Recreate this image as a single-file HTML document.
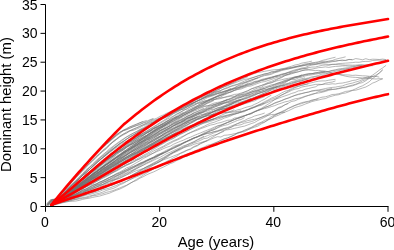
<!DOCTYPE html>
<html><head><meta charset="utf-8"><style>
html,body{margin:0;padding:0;background:#fff;width:394px;height:250px;overflow:hidden}
svg{display:block;will-change:transform}
</style></head><body>
<svg width="394" height="250" viewBox="0 0 394 250">
<defs><clipPath id="pc"><rect x="46" y="0" width="348" height="206"/></clipPath></defs>
<g clip-path="url(#pc)">
<g fill="none" stroke="#707070" stroke-width="0.5">
<path d="M47.8,204.0 L51.8,200.4 L62.4,198.7 L65.8,196.2 L69.1,194.5 L72.5,192.5 L75.9,190.6 L79.2,188.4 L82.6,186.2 L86.0,184.2 L89.4,182.1 L92.7,180.3 L96.1,177.9 L99.5,176.0 L102.8,173.7 L106.2,171.7 L109.6,169.7 L113.0,168.1 L116.3,165.5 L119.7,163.8 L123.1,161.8 L126.4,160.1 L129.8,158.1 L133.2,156.0 L136.6,154.3 L139.9,151.8 L143.3,150.2 L146.7,148.1 L150.0,146.5 L153.4,144.5 L156.8,142.6 L160.2,140.8 L163.5,139.4 L166.9,137.5 L170.3,135.5 L173.6,134.0 L177.0,131.6 L180.4,129.7 L183.8,128.4 L187.1,126.9 L190.5,125.7 L193.9,124.3 L197.3,122.1 L200.6,121.6 L204.0,120.3 L207.4,119.0 L210.7,118.2"/>
<path d="M46.7,203.7 L50.7,200.4 L62.4,197.2 L65.8,194.6 L69.1,191.9 L72.5,189.3 L75.9,186.7 L79.2,183.9 L82.6,181.6 L86.0,178.4 L89.4,176.2 L92.7,174.1 L96.1,171.4 L99.5,168.7 L102.8,166.5 L106.2,164.1 L109.6,161.1 L113.0,159.1 L116.3,156.5 L119.7,154.3 L123.1,152.0 L126.4,149.9 L129.8,147.0 L133.2,144.7 L136.6,142.8 L139.9,140.2 L143.3,138.0 L146.7,136.5"/>
<path d="M51.1,205.5 L62.4,195.0 L65.8,191.7 L69.1,188.3 L72.5,184.7 L75.9,181.8 L79.2,178.8 L82.6,175.5 L86.0,173.0 L89.4,169.5 L92.7,166.6 L96.1,163.4 L99.5,160.6 L102.8,157.9 L106.2,155.2 L109.6,152.6 L113.0,150.1 L116.3,147.6 L119.7,145.5 L123.1,142.9 L126.4,141.4 L129.8,139.8 L133.2,138.3 L136.6,136.3 L139.9,134.9 L143.3,133.2 L146.7,131.9 L150.0,130.2 L153.4,128.3 L156.8,126.6 L160.2,125.2 L163.5,123.7"/>
<path d="M51.1,205.5 L62.4,202.5 L65.8,201.3 L69.1,200.7 L72.5,199.9 L75.9,199.2 L79.2,198.4 L82.6,197.5 L86.0,197.1 L89.4,196.0 L92.7,195.3 L96.1,194.0 L99.5,193.2 L102.8,192.1 L106.2,190.5 L109.6,189.4 L113.0,188.5 L116.3,187.0 L119.7,184.9 L123.1,183.5 L126.4,181.5 L129.8,179.6 L133.2,177.9 L136.6,175.2 L139.9,173.5 L143.3,170.9 L146.7,168.8 L150.0,167.2 L153.4,165.0 L156.8,163.1 L160.2,161.1 L163.5,158.8 L166.9,156.7 L170.3,153.8 L173.6,151.8 L177.0,150.4 L180.4,148.5 L183.8,146.8 L187.1,144.8 L190.5,143.5 L193.9,142.0 L197.3,140.2 L200.6,138.7 L204.0,137.0 L207.4,135.7 L210.7,134.3 L214.1,132.8 L217.5,131.6 L220.9,130.2 L224.2,128.4 L227.6,127.5 L231.0,126.1 L234.3,124.8 L237.7,123.6 L241.1,122.6 L244.5,121.7 L247.8,120.6 L251.2,119.9 L254.6,119.3 L257.9,118.5 L261.3,117.3 L264.7,116.2 L268.1,115.4 L271.4,114.5 L274.8,114.4 L278.2,113.2 L281.5,112.6 L284.9,112.3"/>
<path d="M52.2,205.5 L62.4,199.9 L65.8,198.1 L69.1,196.6 L72.5,195.1 L75.9,193.8 L79.2,192.3 L82.6,190.2 L86.0,189.1 L89.4,187.3 L92.7,185.7 L96.1,184.2 L99.5,182.1 L102.8,181.0 L106.2,179.0 L109.6,177.5 L113.0,175.8 L116.3,174.7 L119.7,173.1 L123.1,171.4 L126.4,169.7 L129.8,167.9 L133.2,166.6 L136.6,164.9 L139.9,163.3 L143.3,161.7 L146.7,160.1 L150.0,158.7 L153.4,157.4 L156.8,155.5 L160.2,154.1 L163.5,152.7"/>
<path d="M52.2,205.5 L62.4,196.4 L65.8,193.8 L69.1,191.4 L72.5,188.3 L75.9,185.9 L79.2,183.1 L82.6,180.2 L86.0,177.7 L89.4,174.7 L92.7,172.3 L96.1,169.9 L99.5,167.1 L102.8,164.3 L106.2,161.9 L109.6,159.5 L113.0,157.0 L116.3,154.2 L119.7,151.9 L123.1,150.1 L126.4,147.7 L129.8,145.6 L133.2,143.5 L136.6,141.5 L139.9,139.4 L143.3,137.2 L146.7,135.3 L150.0,133.2 L153.4,131.3 L156.8,129.0 L160.2,127.1 L163.5,124.9 L166.9,123.1 L170.3,121.3 L173.6,119.2 L177.0,117.5 L180.4,115.4 L183.8,113.4 L187.1,111.3 L190.5,109.8 L193.9,108.1 L197.3,106.8 L200.6,104.8 L204.0,102.8 L207.4,101.3 L210.7,99.7 L214.1,97.8 L217.5,96.6 L220.9,95.2 L224.2,93.6 L227.6,91.3 L231.0,90.4 L234.3,88.7 L237.7,87.5 L241.1,86.3 L244.5,84.9 L247.8,83.5"/>
<path d="M52.7,205.5 L62.4,197.2 L65.8,194.8 L69.1,191.6 L72.5,189.4 L75.9,186.7 L79.2,183.8 L82.6,181.7 L86.0,179.2 L89.4,176.7 L92.7,173.8 L96.1,171.6 L99.5,169.3 L102.8,166.7 L106.2,164.5 L109.6,162.2 L113.0,160.1 L116.3,157.6 L119.7,155.9 L123.1,153.4 L126.4,151.4 L129.8,149.5 L133.2,147.4 L136.6,145.7 L139.9,144.2 L143.3,141.7 L146.7,139.9 L150.0,139.0 L153.4,136.8 L156.8,135.1 L160.2,133.1 L163.5,131.4 L166.9,129.2 L170.3,127.7 L173.6,125.8 L177.0,124.6 L180.4,122.8 L183.8,121.1 L187.1,119.6 L190.5,118.0 L193.9,116.3 L197.3,115.2 L200.6,113.3 L204.0,111.6 L207.4,110.1 L210.7,108.9 L214.1,107.4 L217.5,105.8 L220.9,104.6 L224.2,103.0 L227.6,101.9 L231.0,100.5 L234.3,99.4 L237.7,97.5 L241.1,96.7 L244.5,95.4 L247.8,94.2 L251.2,92.2 L254.6,91.3 L257.9,90.5 L261.3,89.2 L264.7,88.3 L268.1,87.1 L271.4,86.3 L274.8,84.9 L278.2,83.7 L281.5,82.9 L284.9,81.6 L288.3,80.4 L291.7,79.3 L295.0,79.5 L298.4,77.9 L301.8,77.2 L305.1,75.9 L308.5,75.3 L311.9,74.8 L315.3,74.2 L318.6,73.6 L322.0,72.6 L325.4,72.1 L328.8,71.5 L332.1,70.4 L335.5,69.8 L338.9,68.9 L342.2,68.5 L345.6,67.9 L349.0,67.6 L352.4,66.7 L355.7,66.4 L359.1,65.5 L362.5,65.1"/>
<path d="M47.0,204.9 L51.0,200.2 L62.4,198.0 L65.8,196.1 L69.1,193.1 L72.5,191.4 L75.9,189.7 L79.2,187.2 L82.6,184.9 L86.0,182.9 L89.4,180.9 L92.7,178.0 L96.1,175.9 L99.5,173.5 L102.8,171.5 L106.2,169.0 L109.6,166.5 L113.0,164.2 L116.3,162.3 L119.7,159.8 L123.1,157.5 L126.4,154.5 L129.8,152.2 L133.2,149.7 L136.6,147.5 L139.9,144.9 L143.3,142.3 L146.7,139.8 L150.0,137.8"/>
<path d="M50.8,205.5 L62.4,198.1 L65.8,195.4 L69.1,193.2 L72.5,190.5 L75.9,188.2 L79.2,185.9 L82.6,183.9 L86.0,181.2 L89.4,179.2 L92.7,177.4 L96.1,174.3 L99.5,171.9 L102.8,170.0 L106.2,167.8 L109.6,166.0 L113.0,163.4 L116.3,161.3 L119.7,159.0 L123.1,157.1 L126.4,155.2 L129.8,152.9 L133.2,151.2 L136.6,148.9 L139.9,147.2 L143.3,145.0 L146.7,143.0 L150.0,141.7 L153.4,139.4 L156.8,137.5 L160.2,136.1 L163.5,133.8 L166.9,132.0 L170.3,129.9 L173.6,128.3 L177.0,126.7 L180.4,124.7 L183.8,123.4 L187.1,121.9 L190.5,120.0 L193.9,118.5 L197.3,117.1 L200.6,116.6 L204.0,115.1 L207.4,113.8 L210.7,112.9 L214.1,111.3 L217.5,109.8 L220.9,109.1 L224.2,108.5 L227.6,107.2 L231.0,106.0 L234.3,104.9 L237.7,104.1 L241.1,102.8 L244.5,101.5 L247.8,100.0 L251.2,98.8 L254.6,97.4 L257.9,96.0 L261.3,94.6 L264.7,93.1 L268.1,91.6 L271.4,89.6 L274.8,87.8 L278.2,86.1 L281.5,84.2 L284.9,82.8 L288.3,80.6 L291.7,78.9 L295.0,77.7 L298.4,77.2 L301.8,75.9 L305.1,75.1 L308.5,74.3 L311.9,73.8 L315.3,72.8 L318.6,72.3 L322.0,71.4 L325.4,71.5"/>
<path d="M47.3,204.7 L51.3,201.4 L62.4,196.3 L65.8,193.7 L69.1,191.0 L72.5,188.2 L75.9,185.1 L79.2,182.0 L82.6,179.6 L86.0,176.9 L89.4,174.1 L92.7,171.2 L96.1,168.7 L99.5,165.7 L102.8,163.4 L106.2,161.1 L109.6,158.3 L113.0,155.8 L116.3,153.6 L119.7,151.3 L123.1,149.2 L126.4,147.0 L129.8,144.9 L133.2,143.4 L136.6,140.9 L139.9,139.4 L143.3,137.1 L146.7,135.4 L150.0,133.3 L153.4,131.4 L156.8,129.6 L160.2,127.9 L163.5,126.5 L166.9,124.4 L170.3,122.7"/>
<path d="M50.2,205.5 L62.4,191.4 L65.8,187.5 L69.1,183.4 L72.5,179.6 L75.9,176.1 L79.2,171.6 L82.6,168.1 L86.0,164.3 L89.4,160.8 L92.7,157.3 L96.1,153.7 L99.5,150.5 L102.8,147.3 L106.2,144.1 L109.6,141.0 L113.0,138.2 L116.3,135.3 L119.7,132.5 L123.1,130.4 L126.4,129.1 L129.8,126.9 L133.2,125.8 L136.6,124.2 L139.9,122.7 L143.3,121.6 L146.7,120.4"/>
<path d="M52.3,205.5 L62.4,199.2 L65.8,196.9 L69.1,194.8 L72.5,193.1 L75.9,191.4 L79.2,189.6 L82.6,187.4 L86.0,185.6 L89.4,183.5 L92.7,181.3 L96.1,179.4 L99.5,177.3 L102.8,175.7 L106.2,173.4 L109.6,171.6 L113.0,169.7 L116.3,168.1 L119.7,166.2 L123.1,164.2 L126.4,162.6 L129.8,160.6 L133.2,159.5 L136.6,156.8 L139.9,155.0 L143.3,153.2 L146.7,151.4 L150.0,149.9 L153.4,148.4 L156.8,146.4 L160.2,144.6 L163.5,142.9 L166.9,141.0 L170.3,139.2 L173.6,137.9 L177.0,136.1 L180.4,134.5 L183.8,132.7 L187.1,131.0 L190.5,129.4 L193.9,127.4 L197.3,126.3 L200.6,124.5 L204.0,123.1 L207.4,122.4 L210.7,121.3 L214.1,120.1 L217.5,119.2 L220.9,118.1 L224.2,116.8 L227.6,116.0 L231.0,115.1 L234.3,114.0 L237.7,113.1 L241.1,112.0 L244.5,110.8 L247.8,109.6 L251.2,108.7 L254.6,107.0 L257.9,105.5 L261.3,104.1 L264.7,102.9 L268.1,100.9 L271.4,99.3 L274.8,98.3 L278.2,96.6 L281.5,95.1 L284.9,93.3 L288.3,92.1 L291.7,90.3 L295.0,89.1 L298.4,88.6 L301.8,87.0 L305.1,86.4 L308.5,85.8 L311.9,85.2 L315.3,84.4 L318.6,84.3 L322.0,84.5 L325.4,84.1 L328.8,84.3 L332.1,83.8 L335.5,84.0 L338.9,83.3 L342.2,83.1 L345.6,82.4 L349.0,81.6 L352.4,80.5 L355.7,80.1 L359.1,78.9 L362.5,78.4 L365.8,77.4 L369.2,76.6"/>
<path d="M52.4,205.5 L62.4,195.7 L65.8,192.8 L69.1,189.6 L72.5,187.0 L75.9,184.2 L79.2,180.9 L82.6,178.1 L86.0,175.1 L89.4,172.5 L92.7,169.4 L96.1,166.7 L99.5,163.7 L102.8,161.1 L106.2,158.2 L109.6,156.5 L113.0,153.5 L116.3,150.6 L119.7,148.1 L123.1,145.7 L126.4,143.6 L129.8,141.9 L133.2,139.9 L136.6,138.0 L139.9,136.1 L143.3,134.9 L146.7,132.9 L150.0,131.0 L153.4,128.9 L156.8,127.3 L160.2,124.8 L163.5,123.2 L166.9,121.2 L170.3,119.8 L173.6,118.1 L177.0,116.0 L180.4,113.7 L183.8,112.3"/>
<path d="M52.0,205.5 L62.4,198.3 L65.8,196.1 L69.1,194.2 L72.5,192.0 L75.9,190.2 L79.2,188.0 L82.6,185.7 L86.0,183.5 L89.4,181.3 L92.7,179.5 L96.1,177.3 L99.5,175.2 L102.8,172.5 L106.2,170.7 L109.6,168.8 L113.0,166.9 L116.3,164.9 L119.7,162.7 L123.1,160.3 L126.4,158.6 L129.8,156.4 L133.2,154.2 L136.6,152.5 L139.9,150.5 L143.3,148.6 L146.7,146.9 L150.0,144.8 L153.4,142.9 L156.8,140.8 L160.2,139.1 L163.5,136.9 L166.9,135.6 L170.3,133.6 L173.6,132.1 L177.0,130.2 L180.4,128.3 L183.8,126.6 L187.1,124.8 L190.5,123.0 L193.9,120.8 L197.3,119.5 L200.6,118.4 L204.0,116.4 L207.4,115.0 L210.7,113.0 L214.1,111.2 L217.5,109.7 L220.9,108.3 L224.2,106.7 L227.6,105.7 L231.0,104.3 L234.3,102.5 L237.7,101.6 L241.1,100.1 L244.5,98.4 L247.8,97.5 L251.2,96.1 L254.6,94.9 L257.9,93.5 L261.3,92.7 L264.7,91.3 L268.1,90.7 L271.4,88.9 L274.8,87.8 L278.2,87.0 L281.5,85.6 L284.9,85.0 L288.3,83.5 L291.7,82.9 L295.0,81.6 L298.4,80.7 L301.8,79.8 L305.1,78.7 L308.5,77.9 L311.9,76.8 L315.3,76.3 L318.6,75.4 L322.0,74.1 L325.4,74.0 L328.8,72.8 L332.1,72.0 L335.5,71.4 L338.9,70.6 L342.2,70.0 L345.6,69.4 L349.0,68.7"/>
<path d="M50.0,205.5 L62.4,197.1 L65.8,195.1 L69.1,192.6 L72.5,190.7 L75.9,188.1 L79.2,185.4 L82.6,183.4 L86.0,180.9 L89.4,178.0 L92.7,176.0 L96.1,173.7 L99.5,171.3 L102.8,168.8 L106.2,166.8 L109.6,164.2 L113.0,162.3 L116.3,160.2 L119.7,158.2 L123.1,156.6 L126.4,155.1 L129.8,153.0 L133.2,151.3 L136.6,149.4 L139.9,147.6 L143.3,145.8 L146.7,144.1 L150.0,142.6 L153.4,141.2 L156.8,139.0 L160.2,137.6 L163.5,135.5 L166.9,134.7 L170.3,132.8 L173.6,131.1 L177.0,129.3 L180.4,127.8 L183.8,126.1 L187.1,124.6 L190.5,123.1 L193.9,121.2 L197.3,119.2 L200.6,117.6 L204.0,116.1 L207.4,114.5 L210.7,113.1 L214.1,111.2 L217.5,109.2 L220.9,107.8 L224.2,106.1 L227.6,104.3 L231.0,103.3 L234.3,101.6 L237.7,100.3 L241.1,99.1 L244.5,97.7 L247.8,96.0 L251.2,95.1 L254.6,94.0 L257.9,92.1 L261.3,91.3 L264.7,89.9 L268.1,88.8 L271.4,87.9 L274.8,87.1 L278.2,86.1 L281.5,85.3 L284.9,83.9 L288.3,83.3 L291.7,81.5 L295.0,80.9 L298.4,79.7 L301.8,78.7 L305.1,77.8"/>
<path d="M50.7,205.5 L62.4,196.5 L65.8,193.8 L69.1,191.3 L72.5,188.2 L75.9,185.4 L79.2,182.9 L82.6,180.0 L86.0,177.3 L89.4,174.2 L92.7,171.7 L96.1,169.0 L99.5,166.0 L102.8,163.6 L106.2,160.8 L109.6,158.5 L113.0,155.8 L116.3,152.9 L119.7,150.1 L123.1,147.8 L126.4,145.1 L129.8,142.7 L133.2,140.7 L136.6,138.1 L139.9,135.5 L143.3,133.1 L146.7,131.0 L150.0,129.0 L153.4,126.8 L156.8,124.7 L160.2,122.4 L163.5,120.5 L166.9,118.3 L170.3,116.0 L173.6,113.6 L177.0,112.1 L180.4,110.3 L183.8,108.4 L187.1,106.8 L190.5,104.5 L193.9,102.8 L197.3,101.1 L200.6,99.2 L204.0,98.1 L207.4,96.9 L210.7,95.9 L214.1,94.7 L217.5,93.5 L220.9,92.6 L224.2,91.2 L227.6,90.5 L231.0,89.6 L234.3,89.0 L237.7,88.2 L241.1,87.1 L244.5,86.0 L247.8,85.1 L251.2,84.5 L254.6,82.7 L257.9,81.8 L261.3,80.4 L264.7,79.4 L268.1,78.6 L271.4,77.7 L274.8,76.4 L278.2,75.8 L281.5,74.6 L284.9,73.7 L288.3,72.9 L291.7,71.9"/>
<path d="M51.6,205.5 L62.4,194.4 L65.8,190.9 L69.1,187.7 L72.5,184.3 L75.9,181.3 L79.2,178.0 L82.6,174.5 L86.0,171.0 L89.4,167.7 L92.7,165.4 L96.1,162.1 L99.5,158.8 L102.8,156.0 L106.2,154.0 L109.6,150.6 L113.0,148.4 L116.3,146.1 L119.7,143.9"/>
<path d="M46.7,205.7 L50.7,201.7 L62.4,199.6 L65.8,198.4 L69.1,196.9 L72.5,195.6 L75.9,194.1 L79.2,192.1 L82.6,190.4 L86.0,189.0 L89.4,187.4 L92.7,185.2 L96.1,184.0 L99.5,182.3 L102.8,181.0 L106.2,179.1 L109.6,177.3 L113.0,175.6 L116.3,173.6 L119.7,172.1 L123.1,170.2 L126.4,167.9 L129.8,166.7 L133.2,164.7 L136.6,162.6 L139.9,160.8 L143.3,158.5 L146.7,156.9 L150.0,155.0 L153.4,153.0 L156.8,150.8 L160.2,148.8 L163.5,147.0 L166.9,145.2 L170.3,143.4 L173.6,141.5 L177.0,140.1 L180.4,138.5 L183.8,136.3 L187.1,134.3 L190.5,132.7 L193.9,131.4 L197.3,130.2 L200.6,128.7 L204.0,127.5 L207.4,126.2 L210.7,125.0 L214.1,124.4 L217.5,123.2 L220.9,122.5 L224.2,121.4 L227.6,120.3 L231.0,120.0 L234.3,118.1 L237.7,117.7 L241.1,116.3 L244.5,115.6 L247.8,114.5 L251.2,113.5 L254.6,111.9 L257.9,110.5 L261.3,109.5 L264.7,107.5 L268.1,106.3 L271.4,105.0 L274.8,103.3 L278.2,102.1 L281.5,100.5 L284.9,99.3 L288.3,97.9 L291.7,96.5 L295.0,95.4 L298.4,94.1 L301.8,93.5 L305.1,92.6 L308.5,92.1 L311.9,90.9 L315.3,90.3 L318.6,89.9 L322.0,89.3 L325.4,88.5 L328.8,87.9 L332.1,87.4 L335.5,87.1 L338.9,86.4 L342.2,86.0 L345.6,84.7 L349.0,83.8 L352.4,83.1 L355.7,82.0 L359.1,81.1 L362.5,79.5 L365.8,78.4 L369.2,77.7 L372.6,76.4"/>
<path d="M46.8,205.5 L50.8,202.7 L62.4,198.6 L65.8,196.8 L69.1,194.8 L72.5,193.3 L75.9,191.1 L79.2,189.1 L82.6,186.8 L86.0,184.9 L89.4,182.7 L92.7,181.4 L96.1,179.0 L99.5,176.8 L102.8,175.0 L106.2,172.8 L109.6,171.0 L113.0,169.1 L116.3,167.9 L119.7,165.7 L123.1,163.5 L126.4,162.2 L129.8,159.7 L133.2,158.1 L136.6,155.9 L139.9,154.0 L143.3,152.2 L146.7,150.4 L150.0,148.2 L153.4,146.8 L156.8,144.7 L160.2,143.4 L163.5,141.0 L166.9,139.2 L170.3,137.2 L173.6,135.7 L177.0,134.0 L180.4,132.1 L183.8,130.1 L187.1,128.9 L190.5,126.5 L193.9,125.4 L197.3,123.8 L200.6,123.1 L204.0,121.5 L207.4,120.6 L210.7,120.2 L214.1,119.0"/>
<path d="M46.3,204.6 L50.3,199.7 L62.4,198.0 L65.8,195.6 L69.1,193.4 L72.5,191.4 L75.9,188.9 L79.2,186.3 L82.6,184.8 L86.0,182.2 L89.4,180.0 L92.7,177.7 L96.1,175.4 L99.5,172.7 L102.8,170.7 L106.2,168.5 L109.6,166.3 L113.0,164.2 L116.3,162.0 L119.7,159.7 L123.1,157.8 L126.4,155.5 L129.8,153.1 L133.2,150.7 L136.6,148.7 L139.9,146.8 L143.3,144.4 L146.7,142.4 L150.0,140.2 L153.4,138.2 L156.8,136.1 L160.2,134.2 L163.5,132.1 L166.9,130.3 L170.3,128.6 L173.6,126.1 L177.0,124.3 L180.4,122.6 L183.8,121.0 L187.1,118.7 L190.5,117.1 L193.9,116.1 L197.3,114.3 L200.6,113.3 L204.0,112.2 L207.4,111.1 L210.7,109.7 L214.1,109.1 L217.5,107.9 L220.9,107.4 L224.2,106.7 L227.6,105.9 L231.0,104.7 L234.3,103.2 L237.7,102.9 L241.1,101.9 L244.5,101.3 L247.8,100.1 L251.2,98.7 L254.6,97.4 L257.9,95.9 L261.3,94.4 L264.7,93.0 L268.1,91.5 L271.4,90.2 L274.8,89.2 L278.2,87.8 L281.5,86.8 L284.9,85.2"/>
<path d="M47.2,204.1 L51.2,200.0 L62.4,198.0 L65.8,196.1 L69.1,193.9 L72.5,192.0 L75.9,189.4 L79.2,187.1 L82.6,185.2 L86.0,183.1 L89.4,181.1 L92.7,178.6 L96.1,176.3 L99.5,174.2 L102.8,172.6 L106.2,169.5 L109.6,167.8 L113.0,166.0 L116.3,163.5 L119.7,161.3 L123.1,159.2 L126.4,157.4 L129.8,155.1 L133.2,153.3 L136.6,151.2 L139.9,149.4 L143.3,147.3 L146.7,145.2 L150.0,143.1 L153.4,141.3 L156.8,139.1 L160.2,136.9 L163.5,135.2 L166.9,133.4 L170.3,131.6 L173.6,130.0 L177.0,127.8 L180.4,125.9 L183.8,124.1 L187.1,122.7 L190.5,120.5 L193.9,119.0 L197.3,117.8 L200.6,116.4 L204.0,114.7 L207.4,113.9 L210.7,112.7 L214.1,111.7 L217.5,110.8 L220.9,109.7 L224.2,108.7 L227.6,107.9 L231.0,106.8 L234.3,106.1 L237.7,104.7 L241.1,104.2 L244.5,103.1 L247.8,101.6 L251.2,100.7 L254.6,99.1 L257.9,98.0 L261.3,96.8 L264.7,95.0 L268.1,93.5 L271.4,92.1 L274.8,90.5 L278.2,89.4 L281.5,87.7 L284.9,86.3 L288.3,85.2 L291.7,84.1 L295.0,82.4 L298.4,81.4 L301.8,80.7 L305.1,79.6 L308.5,78.5 L311.9,77.9 L315.3,76.8 L318.6,76.6 L322.0,75.7 L325.4,75.1 L328.8,74.8 L332.1,74.2"/>
<path d="M52.2,205.5 L62.4,192.4 L65.8,188.5 L69.1,185.2 L72.5,181.3 L75.9,177.2 L79.2,173.9 L82.6,170.0 L86.0,166.9 L89.4,163.7 L92.7,160.1 L96.1,156.6 L99.5,153.9 L102.8,151.1 L106.2,148.0 L109.6,144.8 L113.0,142.1 L116.3,139.6 L119.7,137.0 L123.1,135.0 L126.4,133.2 L129.8,131.0 L133.2,130.4 L136.6,129.1 L139.9,127.6 L143.3,125.7 L146.7,124.4 L150.0,123.1 L153.4,121.8 L156.8,120.1 L160.2,118.2 L163.5,116.6 L166.9,115.8 L170.3,114.3 L173.6,112.8 L177.0,110.9 L180.4,109.7 L183.8,109.2 L187.1,107.1 L190.5,105.4 L193.9,104.0 L197.3,102.9 L200.6,101.2 L204.0,99.6 L207.4,97.7 L210.7,96.5 L214.1,95.4 L217.5,93.8 L220.9,92.4 L224.2,91.4 L227.6,90.0 L231.0,88.3"/>
<path d="M52.4,205.5 L62.4,198.0 L65.8,195.8 L69.1,193.5 L72.5,191.4 L75.9,188.7 L79.2,186.6 L82.6,184.6 L86.0,182.1 L89.4,179.8 L92.7,177.9 L96.1,175.7 L99.5,173.3 L102.8,171.3 L106.2,169.1 L109.6,166.9 L113.0,165.0 L116.3,163.0 L119.7,160.7 L123.1,158.8 L126.4,156.7 L129.8,155.0 L133.2,153.2 L136.6,151.9 L139.9,150.2 L143.3,147.8 L146.7,146.4 L150.0,144.7 L153.4,142.8 L156.8,140.6 L160.2,139.0 L163.5,137.6 L166.9,136.0 L170.3,134.0 L173.6,132.3 L177.0,130.5 L180.4,128.9 L183.8,127.0 L187.1,125.5 L190.5,123.4 L193.9,121.8 L197.3,119.6 L200.6,118.7 L204.0,116.9 L207.4,115.5 L210.7,113.3 L214.1,111.9 L217.5,110.1 L220.9,108.6 L224.2,107.0 L227.6,105.3 L231.0,104.5 L234.3,102.8 L237.7,101.2 L241.1,100.1"/>
<path d="M50.8,205.5 L62.4,197.1 L65.8,194.0 L69.1,191.9 L72.5,189.2 L75.9,187.0 L79.2,184.3 L82.6,181.2 L86.0,179.1 L89.4,176.3 L92.7,173.4 L96.1,171.9 L99.5,169.2 L102.8,166.4 L106.2,164.0 L109.6,162.1 L113.0,159.6 L116.3,157.8 L119.7,155.1 L123.1,153.0 L126.4,151.1 L129.8,149.3 L133.2,147.3 L136.6,145.1 L139.9,143.1 L143.3,141.5 L146.7,139.8 L150.0,138.1 L153.4,135.7 L156.8,134.1 L160.2,132.5 L163.5,130.8 L166.9,129.0 L170.3,127.4 L173.6,125.4 L177.0,123.3 L180.4,122.3 L183.8,120.1 L187.1,118.5 L190.5,117.1 L193.9,115.4 L197.3,113.3 L200.6,112.0"/>
<path d="M51.6,205.5 L62.4,194.6 L65.8,191.3 L69.1,188.2 L72.5,185.0 L75.9,181.9 L79.2,179.0 L82.6,175.3 L86.0,172.5 L89.4,169.7 L92.7,166.4 L96.1,163.2 L99.5,160.2 L102.8,157.3 L106.2,155.1 L109.6,151.7 L113.0,148.9 L116.3,146.3 L119.7,143.5 L123.1,141.3 L126.4,139.2 L129.8,136.8 L133.2,135.0 L136.6,132.8 L139.9,130.2 L143.3,128.8 L146.7,126.5 L150.0,124.7 L153.4,122.3 L156.8,120.8 L160.2,118.4 L163.5,116.6 L166.9,115.3 L170.3,113.5 L173.6,111.4 L177.0,109.5 L180.4,107.5 L183.8,105.7 L187.1,103.7 L190.5,102.4 L193.9,100.5 L197.3,99.1 L200.6,97.6 L204.0,95.8 L207.4,94.5 L210.7,92.7 L214.1,91.3 L217.5,89.7 L220.9,88.3 L224.2,86.7 L227.6,85.7 L231.0,84.2 L234.3,83.1 L237.7,81.8 L241.1,80.5 L244.5,79.5 L247.8,78.9 L251.2,78.0 L254.6,77.0 L257.9,76.1 L261.3,75.0 L264.7,73.8 L268.1,73.4 L271.4,72.0 L274.8,71.9 L278.2,70.8 L281.5,69.9 L284.9,69.0 L288.3,68.7 L291.7,68.1 L295.0,67.2 L298.4,66.9 L301.8,66.0 L305.1,65.4 L308.5,65.1 L311.9,64.1 L315.3,64.0 L318.6,63.5 L322.0,62.6 L325.4,62.4 L328.8,62.5 L332.1,61.7 L335.5,61.3 L338.9,60.6 L342.2,60.0 L345.6,60.5 L349.0,59.4 L352.4,59.8 L355.7,58.6 L359.1,59.1 L362.5,59.8 L365.8,58.7 L369.2,59.7 L372.6,59.2 L376.0,59.3 L379.3,59.5 L382.7,59.1 L386.1,59.6"/>
<path d="M50.2,205.5 L62.4,197.5 L65.8,194.9 L69.1,192.8 L72.5,190.5 L75.9,187.8 L79.2,185.8 L82.6,183.2 L86.0,180.7 L89.4,178.8 L92.7,176.3 L96.1,174.0 L99.5,171.7 L102.8,168.8 L106.2,166.8 L109.6,165.1 L113.0,162.7 L116.3,160.1 L119.7,158.0 L123.1,155.9 L126.4,153.8 L129.8,151.4 L133.2,149.6 L136.6,147.2 L139.9,145.7 L143.3,143.5 L146.7,141.9 L150.0,140.2 L153.4,138.1 L156.8,136.1 L160.2,134.3 L163.5,132.7 L166.9,130.7 L170.3,129.5 L173.6,127.6 L177.0,125.8 L180.4,123.6 L183.8,121.9 L187.1,120.6 L190.5,118.6 L193.9,116.5 L197.3,114.7 L200.6,113.0 L204.0,111.7 L207.4,109.6 L210.7,107.9 L214.1,106.0 L217.5,105.1 L220.9,103.3 L224.2,101.4 L227.6,99.5 L231.0,98.1 L234.3,96.8 L237.7,94.7 L241.1,93.9 L244.5,92.0 L247.8,90.9 L251.2,89.0 L254.6,87.4 L257.9,86.6 L261.3,85.5 L264.7,84.4 L268.1,83.3 L271.4,82.8 L274.8,81.5 L278.2,80.4 L281.5,79.8 L284.9,78.9 L288.3,78.3 L291.7,77.7 L295.0,76.8 L298.4,76.2 L301.8,75.0"/>
<path d="M52.3,205.5 L62.4,198.8 L65.8,196.8 L69.1,194.6 L72.5,192.8 L75.9,190.4 L79.2,188.5 L82.6,186.6 L86.0,184.4 L89.4,182.7 L92.7,180.8 L96.1,178.4 L99.5,176.8 L102.8,174.5 L106.2,172.3 L109.6,170.2 L113.0,168.2 L116.3,165.7 L119.7,164.2 L123.1,162.0 L126.4,160.0 L129.8,157.8 L133.2,155.8 L136.6,153.7 L139.9,151.5 L143.3,149.3 L146.7,147.4 L150.0,145.5 L153.4,143.4 L156.8,141.0 L160.2,139.4 L163.5,137.2 L166.9,134.7 L170.3,132.8 L173.6,130.7 L177.0,128.9 L180.4,126.6 L183.8,125.1 L187.1,123.1 L190.5,121.6 L193.9,120.2 L197.3,118.6 L200.6,117.8 L204.0,116.7 L207.4,116.0 L210.7,115.1 L214.1,114.4 L217.5,113.3 L220.9,112.9 L224.2,112.8 L227.6,112.0 L231.0,111.9 L234.3,110.9 L237.7,109.8 L241.1,109.1 L244.5,107.8 L247.8,106.8 L251.2,106.0 L254.6,104.3 L257.9,102.9 L261.3,100.8 L264.7,99.2 L268.1,96.9 L271.4,95.1"/>
<path d="M50.5,205.5 L62.4,200.0 L65.8,198.8 L69.1,197.2 L72.5,195.7 L75.9,194.7 L79.2,193.3 L82.6,191.6 L86.0,190.4 L89.4,188.6 L92.7,187.3 L96.1,185.4 L99.5,184.4 L102.8,182.4 L106.2,181.3 L109.6,179.6 L113.0,178.5 L116.3,176.4 L119.7,174.8 L123.1,172.7 L126.4,171.1 L129.8,169.5 L133.2,167.8 L136.6,166.1 L139.9,164.5 L143.3,162.8 L146.7,160.6 L150.0,159.6 L153.4,158.0 L156.8,156.2 L160.2,154.0 L163.5,152.6 L166.9,151.1 L170.3,149.1 L173.6,147.5 L177.0,145.7 L180.4,144.7 L183.8,142.4 L187.1,141.4 L190.5,139.6 L193.9,138.2 L197.3,136.6 L200.6,135.1 L204.0,134.0 L207.4,132.2 L210.7,130.9 L214.1,129.6 L217.5,128.1 L220.9,126.5 L224.2,125.4 L227.6,124.7 L231.0,123.1 L234.3,121.8 L237.7,120.3 L241.1,119.5 L244.5,117.6"/>
<path d="M50.1,205.5 L62.4,196.5 L65.8,193.3 L69.1,190.8 L72.5,187.6 L75.9,185.3 L79.2,182.1 L82.6,179.4 L86.0,177.3 L89.4,173.7 L92.7,171.3 L96.1,168.8 L99.5,166.1 L102.8,163.4 L106.2,160.3 L109.6,158.3 L113.0,156.2 L116.3,153.2 L119.7,151.1 L123.1,149.4 L126.4,147.1 L129.8,145.0 L133.2,143.2 L136.6,141.2 L139.9,139.4 L143.3,137.8 L146.7,136.0 L150.0,133.9 L153.4,132.0 L156.8,130.3 L160.2,128.3 L163.5,126.2 L166.9,124.4 L170.3,122.8 L173.6,121.5 L177.0,119.3 L180.4,117.7 L183.8,115.3 L187.1,113.6 L190.5,112.0 L193.9,110.4 L197.3,108.6 L200.6,106.4 L204.0,105.3 L207.4,102.9 L210.7,101.5 L214.1,99.5 L217.5,98.3 L220.9,96.8 L224.2,94.9 L227.6,93.5 L231.0,91.6 L234.3,90.3 L237.7,88.5 L241.1,87.1 L244.5,85.9 L247.8,84.2 L251.2,82.8 L254.6,81.5 L257.9,80.8 L261.3,79.5 L264.7,78.6 L268.1,78.0 L271.4,77.0 L274.8,76.4 L278.2,75.7"/>
<path d="M52.8,205.5 L62.4,202.8 L65.8,202.2 L69.1,201.4 L72.5,201.3 L75.9,201.0 L79.2,200.4 L82.6,199.4 L86.0,198.7 L89.4,198.2 L92.7,197.4 L96.1,196.7 L99.5,196.1 L102.8,195.1 L106.2,194.1 L109.6,193.1 L113.0,191.6 L116.3,190.3 L119.7,189.1 L123.1,187.5 L126.4,185.7 L129.8,183.7 L133.2,181.5 L136.6,179.3 L139.9,177.4 L143.3,175.2 L146.7,173.0 L150.0,171.0 L153.4,169.1 L156.8,167.4 L160.2,165.3 L163.5,163.3 L166.9,161.3 L170.3,159.7 L173.6,157.7 L177.0,156.1 L180.4,153.5 L183.8,152.2 L187.1,150.3 L190.5,148.7 L193.9,146.5 L197.3,145.2 L200.6,143.2 L204.0,142.0 L207.4,140.6"/>
<path d="M50.3,205.5 L62.4,197.9 L65.8,196.0 L69.1,193.8 L72.5,191.5 L75.9,189.6 L79.2,187.3 L82.6,185.5 L86.0,183.0 L89.4,180.9 L92.7,178.7 L96.1,176.7 L99.5,174.5 L102.8,172.0 L106.2,170.3 L109.6,168.1 L113.0,166.2 L116.3,163.9 L119.7,162.3 L123.1,160.4 L126.4,158.2 L129.8,156.4 L133.2,155.0 L136.6,153.2 L139.9,151.3 L143.3,150.0 L146.7,148.1 L150.0,146.3 L153.4,144.4 L156.8,142.5 L160.2,140.8 L163.5,138.6 L166.9,137.4 L170.3,135.9 L173.6,133.8 L177.0,132.6 L180.4,131.0 L183.8,129.0 L187.1,127.3 L190.5,125.9 L193.9,124.8 L197.3,123.1 L200.6,121.0 L204.0,119.8 L207.4,118.5 L210.7,116.1 L214.1,115.3 L217.5,113.3 L220.9,112.2"/>
<path d="M47.9,205.9 L51.9,202.7 L62.4,197.9 L65.8,195.1 L69.1,192.9 L72.5,190.4 L75.9,188.2 L79.2,186.1 L82.6,183.1 L86.0,180.8 L89.4,178.7 L92.7,175.8 L96.1,173.3 L99.5,171.5 L102.8,169.2 L106.2,167.1 L109.6,164.8 L113.0,162.9 L116.3,160.7 L119.7,158.6 L123.1,156.6 L126.4,154.7 L129.8,152.7 L133.2,150.8 L136.6,149.1 L139.9,146.7 L143.3,144.9 L146.7,143.3 L150.0,141.6 L153.4,139.7 L156.8,137.7 L160.2,136.3 L163.5,134.2 L166.9,132.4 L170.3,130.9 L173.6,129.0 L177.0,126.9 L180.4,125.6 L183.8,123.4 L187.1,121.3 L190.5,120.0 L193.9,118.9 L197.3,117.0 L200.6,115.9 L204.0,114.1 L207.4,112.6 L210.7,111.3 L214.1,109.6 L217.5,108.0 L220.9,106.9 L224.2,105.7 L227.6,104.4 L231.0,102.9 L234.3,102.0 L237.7,101.2 L241.1,99.6 L244.5,98.7 L247.8,97.1 L251.2,96.0 L254.6,94.3 L257.9,93.4 L261.3,92.4 L264.7,91.6 L268.1,89.9 L271.4,88.6 L274.8,87.1 L278.2,86.1"/>
<path d="M51.6,205.5 L62.4,197.9 L65.8,195.2 L69.1,192.8 L72.5,190.6 L75.9,188.4 L79.2,185.9 L82.6,183.9 L86.0,181.2 L89.4,179.3 L92.7,176.5 L96.1,174.2 L99.5,171.8 L102.8,169.7 L106.2,167.4 L109.6,164.9 L113.0,162.7 L116.3,160.1 L119.7,157.6 L123.1,155.1 L126.4,153.0 L129.8,150.3 L133.2,147.7 L136.6,145.0 L139.9,142.7 L143.3,140.6 L146.7,138.2 L150.0,135.7 L153.4,132.9 L156.8,131.2 L160.2,129.0 L163.5,126.6 L166.9,124.5"/>
<path d="M50.4,205.5 L62.4,195.6 L65.8,192.5 L69.1,190.1 L72.5,186.6 L75.9,183.7 L79.2,180.7 L82.6,177.5 L86.0,174.6 L89.4,172.1 L92.7,169.4 L96.1,166.6 L99.5,163.4 L102.8,160.8 L106.2,158.4 L109.6,156.0 L113.0,153.3 L116.3,151.1 L119.7,148.9 L123.1,146.3 L126.4,144.4 L129.8,142.2 L133.2,140.6 L136.6,138.5 L139.9,136.5 L143.3,135.3 L146.7,133.3 L150.0,131.4 L153.4,130.1 L156.8,128.4 L160.2,126.6 L163.5,124.9 L166.9,122.7 L170.3,121.3 L173.6,119.5 L177.0,118.2 L180.4,116.5 L183.8,114.8 L187.1,113.2 L190.5,111.2 L193.9,109.0 L197.3,107.2 L200.6,105.6 L204.0,103.0 L207.4,101.6 L210.7,99.7 L214.1,97.9 L217.5,96.3 L220.9,94.6 L224.2,93.0 L227.6,91.3 L231.0,89.0 L234.3,87.7 L237.7,85.8 L241.1,84.0 L244.5,82.7 L247.8,81.4 L251.2,80.1 L254.6,78.9 L257.9,77.6 L261.3,76.2 L264.7,74.8 L268.1,74.5 L271.4,73.3 L274.8,72.0 L278.2,71.2 L281.5,69.8 L284.9,68.9 L288.3,68.1 L291.7,67.7 L295.0,66.6 L298.4,66.0 L301.8,65.0 L305.1,63.8 L308.5,63.8 L311.9,62.9 L315.3,63.0 L318.6,62.1 L322.0,61.5 L325.4,61.3 L328.8,61.4 L332.1,61.0 L335.5,61.0 L338.9,60.4 L342.2,60.7 L345.6,60.3 L349.0,59.5 L352.4,59.6"/>
<path d="M52.9,205.5 L62.4,198.1 L65.8,196.1 L69.1,193.8 L72.5,191.5 L75.9,189.9 L79.2,187.5 L82.6,185.2 L86.0,183.0 L89.4,180.6 L92.7,178.4 L96.1,176.5 L99.5,174.1 L102.8,172.3 L106.2,169.7 L109.6,167.4 L113.0,165.2 L116.3,163.4 L119.7,161.4 L123.1,159.1 L126.4,157.0 L129.8,154.8 L133.2,152.5 L136.6,150.4 L139.9,148.3 L143.3,146.3 L146.7,144.8 L150.0,142.3 L153.4,140.6 L156.8,138.5 L160.2,136.2 L163.5,134.7 L166.9,132.5 L170.3,131.0 L173.6,128.9 L177.0,127.0 L180.4,125.5 L183.8,123.5 L187.1,121.8 L190.5,119.9 L193.9,118.4 L197.3,116.8"/>
<path d="M51.7,205.5 L62.4,200.0 L65.8,198.6 L69.1,197.2 L72.5,195.6 L75.9,194.3 L79.2,192.6 L82.6,191.1 L86.0,190.0 L89.4,188.3 L92.7,186.7 L96.1,185.2 L99.5,183.5 L102.8,182.1 L106.2,180.4 L109.6,178.9 L113.0,177.0 L116.3,175.6 L119.7,174.2 L123.1,172.1 L126.4,170.5 L129.8,169.0 L133.2,167.4 L136.6,165.8 L139.9,164.5 L143.3,162.6 L146.7,160.9 L150.0,158.9 L153.4,157.9 L156.8,155.9 L160.2,154.6 L163.5,153.0 L166.9,151.7 L170.3,149.9 L173.6,148.2 L177.0,146.7 L180.4,145.3 L183.8,143.3 L187.1,141.5 L190.5,140.3 L193.9,138.4 L197.3,136.8 L200.6,135.4 L204.0,134.0 L207.4,132.4 L210.7,130.7 L214.1,129.6 L217.5,127.5 L220.9,125.6 L224.2,123.8 L227.6,122.6 L231.0,121.3 L234.3,119.5 L237.7,118.3 L241.1,117.2 L244.5,115.9 L247.8,114.6 L251.2,113.4 L254.6,112.0 L257.9,110.4 L261.3,109.1 L264.7,107.5 L268.1,106.3 L271.4,104.6 L274.8,102.8 L278.2,101.6 L281.5,100.8 L284.9,99.0 L288.3,98.2 L291.7,96.8 L295.0,95.4 L298.4,94.6 L301.8,93.6 L305.1,92.8 L308.5,92.0 L311.9,91.1 L315.3,90.7 L318.6,90.6 L322.0,90.0 L325.4,90.1 L328.8,89.5 L332.1,89.3 L335.5,89.3 L338.9,88.7 L342.2,87.9 L345.6,87.6 L349.0,86.4 L352.4,85.9 L355.7,84.7 L359.1,83.4 L362.5,82.6 L365.8,80.7 L369.2,78.4 L372.6,76.6 L376.0,75.1 L379.3,73.0 L382.7,69.8"/>
<path d="M50.3,205.5 L62.4,192.3 L65.8,188.5 L69.1,184.9 L72.5,180.7 L75.9,177.0 L79.2,173.6 L82.6,170.2 L86.0,166.5 L89.4,162.9 L92.7,159.8 L96.1,156.6 L99.5,153.4 L102.8,150.1 L106.2,147.5 L109.6,144.3 L113.0,141.3 L116.3,138.9 L119.7,136.2 L123.1,134.3 L126.4,132.1 L129.8,130.7 L133.2,129.1 L136.6,128.0 L139.9,126.1 L143.3,124.9 L146.7,123.5 L150.0,122.1 L153.4,120.5 L156.8,119.4 L160.2,117.9 L163.5,116.3 L166.9,114.7 L170.3,113.3 L173.6,111.9 L177.0,110.2 L180.4,108.7 L183.8,107.3 L187.1,105.3 L190.5,103.9 L193.9,102.6 L197.3,100.9 L200.6,99.4 L204.0,97.3 L207.4,95.7 L210.7,94.8 L214.1,93.1 L217.5,91.7 L220.9,90.4 L224.2,88.7 L227.6,87.3 L231.0,86.1 L234.3,85.0 L237.7,84.1 L241.1,82.5 L244.5,81.1 L247.8,79.7 L251.2,78.3 L254.6,77.1 L257.9,75.8 L261.3,74.9 L264.7,74.0 L268.1,73.2 L271.4,71.9 L274.8,71.3 L278.2,70.1 L281.5,68.9 L284.9,68.2 L288.3,67.1 L291.7,66.2 L295.0,65.0 L298.4,64.4 L301.8,63.1 L305.1,62.5 L308.5,61.9 L311.9,61.1"/>
<path d="M52.7,205.5 L62.4,197.5 L65.8,194.9 L69.1,192.3 L72.5,189.8 L75.9,187.7 L79.2,185.0 L82.6,182.6 L86.0,180.0 L89.4,177.6 L92.7,174.9 L96.1,171.9 L99.5,169.9 L102.8,167.2 L106.2,165.1 L109.6,162.5 L113.0,159.9 L116.3,157.7 L119.7,155.0 L123.1,152.4 L126.4,149.9 L129.8,147.6 L133.2,145.3 L136.6,143.0 L139.9,140.3 L143.3,138.6 L146.7,136.1 L150.0,133.8 L153.4,131.3 L156.8,129.4 L160.2,127.2 L163.5,125.6 L166.9,123.2 L170.3,120.9 L173.6,118.8 L177.0,117.0 L180.4,114.7 L183.8,112.8 L187.1,110.5 L190.5,108.4 L193.9,107.0 L197.3,105.7 L200.6,103.5 L204.0,102.8 L207.4,101.0 L210.7,99.4 L214.1,98.3 L217.5,96.6 L220.9,95.2 L224.2,94.3 L227.6,92.9 L231.0,91.9 L234.3,90.5 L237.7,89.3 L241.1,87.9 L244.5,86.9 L247.8,85.3 L251.2,84.5 L254.6,83.5 L257.9,82.1 L261.3,80.6 L264.7,80.1 L268.1,78.8 L271.4,78.3 L274.8,77.0 L278.2,75.9 L281.5,74.8 L284.9,73.9 L288.3,72.5 L291.7,71.6 L295.0,70.6 L298.4,69.5 L301.8,69.0 L305.1,68.6 L308.5,67.7 L311.9,67.1 L315.3,67.0 L318.6,66.2 L322.0,65.3 L325.4,65.0 L328.8,65.4 L332.1,64.4 L335.5,64.1 L338.9,63.5 L342.2,63.4 L345.6,63.1 L349.0,62.9 L352.4,62.6 L355.7,62.2 L359.1,62.3 L362.5,61.6 L365.8,61.4 L369.2,61.4 L372.6,60.5 L376.0,60.3 L379.3,60.1 L382.7,60.3 L386.1,60.0"/>
<path d="M52.6,205.5 L62.4,196.8 L65.8,194.6 L69.1,192.5 L72.5,190.1 L75.9,187.7 L79.2,184.8 L82.6,182.9 L86.0,180.0 L89.4,177.6 L92.7,175.2 L96.1,172.7 L99.5,170.0 L102.8,167.8 L106.2,165.0 L109.6,162.9 L113.0,160.6 L116.3,158.2 L119.7,155.6 L123.1,152.9 L126.4,151.3 L129.8,148.7 L133.2,146.4 L136.6,143.7 L139.9,141.6 L143.3,139.6 L146.7,136.9 L150.0,135.2 L153.4,132.6 L156.8,130.9 L160.2,128.8 L163.5,126.9 L166.9,124.7 L170.3,122.7 L173.6,120.6 L177.0,118.3 L180.4,117.0 L183.8,115.2 L187.1,113.6 L190.5,111.3 L193.9,109.8 L197.3,108.6 L200.6,107.4 L204.0,106.1 L207.4,105.6 L210.7,105.3 L214.1,104.4 L217.5,103.8 L220.9,103.5 L224.2,103.1 L227.6,102.7 L231.0,102.1 L234.3,101.2 L237.7,100.4 L241.1,99.9 L244.5,99.1 L247.8,98.1 L251.2,96.7 L254.6,95.5 L257.9,93.7 L261.3,92.3 L264.7,91.3 L268.1,89.0 L271.4,87.7 L274.8,86.0 L278.2,84.5 L281.5,83.3 L284.9,81.8 L288.3,80.6 L291.7,78.9 L295.0,77.9 L298.4,76.4 L301.8,75.9"/>
<path d="M52.3,205.5 L62.4,195.8 L65.8,193.3 L69.1,190.0 L72.5,187.2 L75.9,184.4 L79.2,181.4 L82.6,178.2 L86.0,175.2 L89.4,172.8 L92.7,169.9 L96.1,167.0 L99.5,164.6 L102.8,161.4 L106.2,158.6 L109.6,155.8 L113.0,153.5 L116.3,150.6 L119.7,148.2 L123.1,146.0 L126.4,143.5 L129.8,141.0 L133.2,139.3 L136.6,137.0 L139.9,134.8 L143.3,133.0 L146.7,131.4 L150.0,129.2 L153.4,127.3 L156.8,125.4 L160.2,123.3 L163.5,121.4 L166.9,119.3 L170.3,117.7 L173.6,115.8 L177.0,113.7 L180.4,112.2 L183.8,110.1 L187.1,109.0 L190.5,106.8 L193.9,105.4 L197.3,103.6 L200.6,102.8 L204.0,101.1 L207.4,100.2 L210.7,98.7 L214.1,97.4 L217.5,96.2 L220.9,95.4 L224.2,94.1 L227.6,92.6 L231.0,92.1 L234.3,90.4 L237.7,89.5 L241.1,89.0 L244.5,87.6 L247.8,86.4 L251.2,85.9 L254.6,84.6 L257.9,83.4 L261.3,82.1 L264.7,81.6 L268.1,80.5 L271.4,79.5 L274.8,78.2 L278.2,77.0 L281.5,76.2 L284.9,74.8 L288.3,74.5 L291.7,73.1 L295.0,72.5 L298.4,71.8 L301.8,70.6 L305.1,70.2 L308.5,70.0 L311.9,70.3 L315.3,70.6 L318.6,70.4 L322.0,70.9 L325.4,71.1 L328.8,72.0 L332.1,72.8 L335.5,74.0 L338.9,74.5 L342.2,75.3 L345.6,76.2 L349.0,76.8 L352.4,77.2 L355.7,77.4 L359.1,77.6 L362.5,78.0 L365.8,77.9 L369.2,78.3 L372.6,78.8 L376.0,79.0 L379.3,78.7 L382.7,78.7"/>
<path d="M52.0,205.5 L62.4,197.5 L65.8,195.2 L69.1,193.4 L72.5,190.9 L75.9,188.2 L79.2,186.0 L82.6,183.9 L86.0,181.2 L89.4,179.0 L92.7,176.3 L96.1,174.4 L99.5,171.7 L102.8,169.3 L106.2,167.1 L109.6,164.7 L113.0,162.1 L116.3,159.5 L119.7,157.0 L123.1,154.2 L126.4,151.8 L129.8,149.1 L133.2,146.1 L136.6,143.4 L139.9,141.1 L143.3,138.0 L146.7,135.5 L150.0,133.2 L153.4,130.9 L156.8,128.3 L160.2,125.7 L163.5,123.7 L166.9,121.4 L170.3,118.7 L173.6,116.3 L177.0,114.4 L180.4,112.3 L183.8,110.4 L187.1,108.5 L190.5,106.5 L193.9,105.2 L197.3,103.3 L200.6,102.3 L204.0,101.4 L207.4,100.6 L210.7,99.8 L214.1,99.5 L217.5,98.2 L220.9,97.8 L224.2,97.3 L227.6,96.8 L231.0,96.1 L234.3,96.3 L237.7,95.3 L241.1,94.8 L244.5,94.3 L247.8,93.4 L251.2,92.0 L254.6,90.7 L257.9,89.5 L261.3,88.2 L264.7,87.0 L268.1,86.0 L271.4,84.8 L274.8,84.4 L278.2,82.8 L281.5,82.1 L284.9,80.8 L288.3,79.5 L291.7,78.3 L295.0,77.3 L298.4,76.8 L301.8,75.7 L305.1,74.5 L308.5,73.8 L311.9,73.6 L315.3,73.2 L318.6,72.3 L322.0,72.1 L325.4,71.8 L328.8,71.4 L332.1,70.7 L335.5,70.2 L338.9,69.8 L342.2,69.2 L345.6,68.7 L349.0,68.6 L352.4,67.7 L355.7,67.3 L359.1,66.7 L362.5,66.4 L365.8,65.8 L369.2,65.2"/>
<path d="M52.1,205.5 L62.4,195.5 L65.8,192.5 L69.1,189.4 L72.5,186.5 L75.9,183.6 L79.2,180.6 L82.6,177.4 L86.0,174.5 L89.4,171.7 L92.7,169.0 L96.1,166.1 L99.5,163.1 L102.8,159.8 L106.2,157.4 L109.6,154.6 L113.0,152.3 L116.3,150.0 L119.7,148.0 L123.1,145.9 L126.4,142.9 L129.8,141.3 L133.2,139.2 L136.6,137.6 L139.9,135.8 L143.3,134.2 L146.7,132.4 L150.0,130.9 L153.4,128.7 L156.8,127.4 L160.2,125.2 L163.5,124.1 L166.9,121.8 L170.3,120.6 L173.6,118.4 L177.0,116.8 L180.4,115.0 L183.8,113.2 L187.1,112.0 L190.5,110.1 L193.9,108.0 L197.3,105.8 L200.6,104.0 L204.0,102.2 L207.4,100.5 L210.7,99.0 L214.1,97.7 L217.5,95.6 L220.9,93.6 L224.2,92.1 L227.6,90.6 L231.0,89.2 L234.3,88.2 L237.7,86.3 L241.1,85.2 L244.5,83.2 L247.8,82.2 L251.2,81.1 L254.6,79.3 L257.9,78.1 L261.3,76.7 L264.7,75.6 L268.1,75.1 L271.4,74.3 L274.8,72.7 L278.2,71.8 L281.5,70.6 L284.9,69.8 L288.3,69.1 L291.7,68.2 L295.0,67.5 L298.4,66.0 L301.8,65.5 L305.1,65.0 L308.5,64.5 L311.9,64.2 L315.3,64.2 L318.6,64.0 L322.0,63.8 L325.4,64.0 L328.8,64.5 L332.1,64.4 L335.5,64.5 L338.9,64.7 L342.2,64.9 L345.6,65.1 L349.0,65.0 L352.4,65.2 L355.7,65.1 L359.1,64.8 L362.5,64.7 L365.8,64.8 L369.2,64.8 L372.6,64.8"/>
<path d="M47.8,204.5 L51.8,200.7 L62.4,200.9 L65.8,199.3 L69.1,198.0 L72.5,196.6 L75.9,195.3 L79.2,194.2 L82.6,193.0 L86.0,191.2 L89.4,190.0 L92.7,188.6 L96.1,187.0 L99.5,186.0 L102.8,184.4 L106.2,183.2 L109.6,181.5 L113.0,180.3 L116.3,178.8 L119.7,176.8 L123.1,175.5 L126.4,173.5 L129.8,172.4 L133.2,170.2 L136.6,168.5 L139.9,166.9 L143.3,165.2 L146.7,163.6 L150.0,162.1 L153.4,160.4 L156.8,158.7 L160.2,157.3 L163.5,155.4 L166.9,153.5 L170.3,152.2 L173.6,150.6 L177.0,149.0 L180.4,147.5 L183.8,145.7 L187.1,144.8 L190.5,143.0 L193.9,141.6 L197.3,139.7 L200.6,137.9 L204.0,136.3"/>
<path d="M51.6,205.5 L62.4,198.8 L65.8,197.5 L69.1,195.8 L72.5,193.6 L75.9,192.0 L79.2,189.9 L82.6,188.0 L86.0,186.3 L89.4,184.6 L92.7,182.3 L96.1,181.0 L99.5,179.0 L102.8,177.1 L106.2,175.4 L109.6,173.7 L113.0,171.9 L116.3,170.2 L119.7,167.9 L123.1,166.7 L126.4,164.7 L129.8,163.7 L133.2,162.2 L136.6,160.5 L139.9,158.9 L143.3,157.2 L146.7,156.0 L150.0,154.5 L153.4,153.2 L156.8,151.6 L160.2,150.2 L163.5,148.6 L166.9,147.2 L170.3,146.1 L173.6,144.2 L177.0,142.7 L180.4,141.3 L183.8,140.0 L187.1,138.4 L190.5,137.2 L193.9,135.6 L197.3,134.2 L200.6,132.9 L204.0,131.4 L207.4,130.1 L210.7,128.8 L214.1,127.2 L217.5,125.9 L220.9,124.9 L224.2,123.7 L227.6,122.3 L231.0,120.7 L234.3,119.5 L237.7,118.4 L241.1,117.3 L244.5,116.0 L247.8,114.6 L251.2,113.9 L254.6,111.7 L257.9,110.0 L261.3,108.4 L264.7,106.3 L268.1,104.2 L271.4,102.1 L274.8,99.5 L278.2,97.5 L281.5,95.1 L284.9,93.5 L288.3,91.1 L291.7,89.4 L295.0,87.6 L298.4,86.4 L301.8,85.4 L305.1,84.5 L308.5,83.9"/>
<path d="M51.8,205.5 L62.4,197.5 L65.8,194.9 L69.1,192.2 L72.5,190.3 L75.9,187.1 L79.2,184.8 L82.6,182.2 L86.0,179.6 L89.4,177.3 L92.7,174.5 L96.1,172.1 L99.5,169.5 L102.8,167.1 L106.2,164.6 L109.6,162.3 L113.0,159.9 L116.3,157.7 L119.7,155.3 L123.1,153.2 L126.4,151.1 L129.8,148.6 L133.2,146.7 L136.6,144.7 L139.9,142.7 L143.3,141.0 L146.7,138.8 L150.0,137.3 L153.4,135.2 L156.8,132.9 L160.2,130.8 L163.5,128.7 L166.9,127.5 L170.3,125.2 L173.6,123.3 L177.0,121.7 L180.4,120.4 L183.8,118.5 L187.1,116.4 L190.5,114.7 L193.9,112.9 L197.3,111.6 L200.6,109.8 L204.0,108.1"/>
<path d="M50.6,205.5 L62.4,198.5 L65.8,196.5 L69.1,195.1 L72.5,192.9 L75.9,190.8 L79.2,188.5 L82.6,186.8 L86.0,184.7 L89.4,182.7 L92.7,180.4 L96.1,178.4 L99.5,176.1 L102.8,174.3 L106.2,172.5 L109.6,170.8 L113.0,168.2 L116.3,166.0 L119.7,164.2 L123.1,162.5 L126.4,160.6 L129.8,158.8 L133.2,156.7 L136.6,155.4 L139.9,153.6 L143.3,151.9 L146.7,149.9 L150.0,147.7 L153.4,146.2 L156.8,144.5 L160.2,143.0 L163.5,140.8 L166.9,138.8 L170.3,137.6 L173.6,135.8 L177.0,134.3 L180.4,132.3 L183.8,130.5 L187.1,129.1 L190.5,127.0 L193.9,125.9 L197.3,124.8 L200.6,123.3 L204.0,122.3 L207.4,121.3 L210.7,119.8 L214.1,118.7 L217.5,118.1 L220.9,117.2 L224.2,116.3 L227.6,115.4 L231.0,114.3 L234.3,114.2 L237.7,113.1 L241.1,112.4 L244.5,111.6 L247.8,109.7 L251.2,108.3 L254.6,107.3 L257.9,106.1 L261.3,105.3 L264.7,103.6 L268.1,102.2 L271.4,100.8 L274.8,99.6 L278.2,98.3 L281.5,97.1 L284.9,95.9 L288.3,94.8 L291.7,93.4 L295.0,92.5 L298.4,90.9 L301.8,90.6 L305.1,89.3 L308.5,88.5 L311.9,87.6 L315.3,86.9 L318.6,85.0 L322.0,84.5 L325.4,83.2 L328.8,82.5 L332.1,82.1 L335.5,80.9"/>
<path d="M50.6,205.5 L62.4,202.3 L65.8,201.7 L69.1,200.9 L72.5,200.4 L75.9,199.5 L79.2,198.9 L82.6,198.4 L86.0,197.9 L89.4,197.1 L92.7,195.8 L96.1,195.4 L99.5,194.4 L102.8,193.7 L106.2,192.4 L109.6,191.6 L113.0,190.6 L116.3,189.3 L119.7,188.0 L123.1,186.5 L126.4,185.3 L129.8,183.3 L133.2,181.7 L136.6,180.4 L139.9,178.2 L143.3,176.7 L146.7,174.8 L150.0,173.3 L153.4,172.0 L156.8,170.4 L160.2,168.5 L163.5,167.0 L166.9,165.3 L170.3,163.6 L173.6,162.4 L177.0,160.3 L180.4,159.2 L183.8,157.0 L187.1,156.0 L190.5,154.4 L193.9,152.6 L197.3,151.3 L200.6,149.5 L204.0,148.0 L207.4,146.7 L210.7,145.1 L214.1,143.6 L217.5,141.9 L220.9,140.6 L224.2,139.1 L227.6,138.0 L231.0,136.5 L234.3,134.9 L237.7,133.3 L241.1,132.1 L244.5,130.6 L247.8,128.6 L251.2,127.4 L254.6,125.4 L257.9,123.6 L261.3,122.2 L264.7,120.3 L268.1,119.0 L271.4,116.5 L274.8,115.0 L278.2,113.4 L281.5,111.7 L284.9,110.1 L288.3,108.3 L291.7,107.2 L295.0,105.5 L298.4,104.4 L301.8,103.6 L305.1,102.3 L308.5,101.9 L311.9,100.6 L315.3,99.5 L318.6,99.0"/>
<path d="M52.4,205.5 L62.4,191.0 L65.8,187.3 L69.1,183.2 L72.5,179.1 L75.9,175.4 L79.2,171.6 L82.6,167.9 L86.0,163.8 L89.4,160.5 L92.7,157.2 L96.1,153.8 L99.5,150.3 L102.8,147.2 L106.2,143.9 L109.6,141.2 L113.0,137.9 L116.3,135.1 L119.7,132.6 L123.1,130.5 L126.4,129.5 L129.8,128.3 L133.2,126.7 L136.6,125.5 L139.9,124.1 L143.3,122.7 L146.7,121.3 L150.0,119.6 L153.4,118.6"/>
<path d="M52.4,205.5 L62.4,198.5 L65.8,196.4 L69.1,194.4 L72.5,192.0 L75.9,190.3 L79.2,187.8 L82.6,185.8 L86.0,183.7 L89.4,181.5 L92.7,179.0 L96.1,176.9 L99.5,174.8 L102.8,173.0 L106.2,170.4 L109.6,168.4 L113.0,166.4 L116.3,164.2 L119.7,162.3 L123.1,160.1 L126.4,157.8 L129.8,155.2 L133.2,153.3 L136.6,150.4 L139.9,148.6 L143.3,146.5 L146.7,144.4 L150.0,142.1 L153.4,139.8 L156.8,138.5 L160.2,136.4 L163.5,134.1 L166.9,132.2 L170.3,130.5 L173.6,128.3 L177.0,127.1 L180.4,124.9 L183.8,122.9 L187.1,121.3 L190.5,119.5 L193.9,117.8 L197.3,116.7 L200.6,114.6 L204.0,114.2 L207.4,113.1 L210.7,112.2 L214.1,111.1 L217.5,110.3 L220.9,109.8 L224.2,109.0 L227.6,108.2 L231.0,107.5 L234.3,106.7 L237.7,105.9 L241.1,104.9 L244.5,103.8 L247.8,102.9 L251.2,101.7 L254.6,100.8 L257.9,99.1 L261.3,97.9 L264.7,96.6"/>
<path d="M51.4,205.5 L62.4,200.7 L65.8,199.6 L69.1,198.4 L72.5,197.6 L75.9,196.1 L79.2,194.6 L82.6,193.7 L86.0,192.4 L89.4,191.3 L92.7,189.6 L96.1,188.5 L99.5,186.9 L102.8,185.6 L106.2,184.1 L109.6,183.0 L113.0,181.1 L116.3,179.3 L119.7,178.5 L123.1,176.7 L126.4,174.9 L129.8,172.7 L133.2,170.8 L136.6,168.7 L139.9,166.7 L143.3,165.0 L146.7,162.9 L150.0,161.3 L153.4,159.3 L156.8,157.2 L160.2,155.1 L163.5,153.3 L166.9,151.6 L170.3,149.7 L173.6,148.4 L177.0,146.7 L180.4,144.8 L183.8,142.6 L187.1,141.0 L190.5,139.4 L193.9,137.8 L197.3,137.0 L200.6,135.5 L204.0,134.0 L207.4,133.3 L210.7,132.6 L214.1,131.6 L217.5,130.8 L220.9,129.4 L224.2,128.7 L227.6,128.1 L231.0,127.3 L234.3,125.8 L237.7,125.3 L241.1,124.7 L244.5,123.2 L247.8,122.5 L251.2,121.7 L254.6,120.5 L257.9,118.8 L261.3,117.4 L264.7,115.7 L268.1,114.0 L271.4,112.5 L274.8,110.2 L278.2,108.3 L281.5,107.2 L284.9,104.7 L288.3,103.6"/>
<path d="M50.8,205.5 L62.4,197.0 L65.8,194.5 L69.1,192.0 L72.5,189.5 L75.9,187.2 L79.2,184.6 L82.6,182.0 L86.0,179.2 L89.4,176.8 L92.7,174.6 L96.1,171.8 L99.5,169.4 L102.8,166.9 L106.2,164.3 L109.6,162.1 L113.0,159.4 L116.3,156.7 L119.7,154.7 L123.1,151.8 L126.4,149.9 L129.8,147.6 L133.2,145.2 L136.6,143.1 L139.9,140.9 L143.3,138.7 L146.7,136.6 L150.0,134.2 L153.4,131.9 L156.8,129.6 L160.2,127.2 L163.5,125.5 L166.9,123.4 L170.3,121.4 L173.6,119.8 L177.0,117.2 L180.4,115.4 L183.8,113.9 L187.1,112.1 L190.5,109.7 L193.9,108.6 L197.3,106.5 L200.6,105.5 L204.0,103.9 L207.4,102.5 L210.7,100.9 L214.1,99.7 L217.5,99.2 L220.9,98.5 L224.2,97.5 L227.6,96.3 L231.0,95.5 L234.3,94.4 L237.7,94.1 L241.1,93.0 L244.5,92.0 L247.8,90.7 L251.2,88.9 L254.6,88.1 L257.9,86.6 L261.3,85.5 L264.7,84.1 L268.1,82.4 L271.4,81.4 L274.8,79.8 L278.2,78.5 L281.5,77.2 L284.9,75.5 L288.3,74.8 L291.7,73.8 L295.0,72.7 L298.4,71.7 L301.8,70.8 L305.1,69.8 L308.5,69.5 L311.9,69.1 L315.3,68.4 L318.6,67.6 L322.0,67.4 L325.4,66.9 L328.8,67.4 L332.1,66.8 L335.5,66.4 L338.9,66.3 L342.2,65.9 L345.6,65.8 L349.0,66.2 L352.4,66.1 L355.7,65.9 L359.1,65.3 L362.5,65.9 L365.8,66.4 L369.2,65.5 L372.6,65.8"/>
<path d="M51.9,205.5 L62.4,191.8 L65.8,187.8 L69.1,183.9 L72.5,179.9 L75.9,176.3 L79.2,172.2 L82.6,168.2 L86.0,165.0 L89.4,161.0 L92.7,157.3 L96.1,154.3 L99.5,150.8 L102.8,147.5 L106.2,144.6 L109.6,141.8 L113.0,138.7 L116.3,135.9 L119.7,133.6 L123.1,130.9 L126.4,129.8 L129.8,128.1 L133.2,126.8 L136.6,125.6 L139.9,124.7 L143.3,123.1 L146.7,122.1 L150.0,120.4 L153.4,118.7"/>
<path d="M51.3,205.5 L62.4,201.5 L65.8,200.8 L69.1,199.8 L72.5,199.2 L75.9,198.2 L79.2,197.2 L82.6,196.3 L86.0,195.1 L89.4,194.5 L92.7,193.6 L96.1,192.4 L99.5,191.4 L102.8,189.9 L106.2,189.0 L109.6,188.0 L113.0,186.7 L116.3,185.5 L119.7,183.8 L123.1,182.5 L126.4,181.4 L129.8,179.7 L133.2,178.2 L136.6,176.8 L139.9,175.4 L143.3,173.8 L146.7,172.1 L150.0,170.3 L153.4,169.0 L156.8,167.2 L160.2,166.1 L163.5,164.3 L166.9,162.5 L170.3,161.3 L173.6,159.9 L177.0,158.4 L180.4,156.6 L183.8,155.1 L187.1,154.0 L190.5,152.9 L193.9,151.2 L197.3,149.8 L200.6,148.3 L204.0,147.1 L207.4,145.3 L210.7,144.6 L214.1,143.2 L217.5,142.0 L220.9,140.2 L224.2,138.8 L227.6,137.9 L231.0,136.6 L234.3,135.0 L237.7,132.6 L241.1,131.8 L244.5,130.2 L247.8,129.6 L251.2,127.9 L254.6,126.2 L257.9,124.6 L261.3,122.9 L264.7,121.8 L268.1,120.0 L271.4,118.4 L274.8,116.6 L278.2,115.3 L281.5,113.7 L284.9,112.2 L288.3,110.8 L291.7,109.2 L295.0,107.5 L298.4,106.5 L301.8,105.5 L305.1,104.1 L308.5,102.9 L311.9,101.6 L315.3,100.7 L318.6,100.0 L322.0,99.1 L325.4,98.6 L328.8,97.1 L332.1,96.1 L335.5,95.2 L338.9,94.7 L342.2,93.5 L345.6,93.0 L349.0,91.8 L352.4,90.5 L355.7,90.2 L359.1,89.2 L362.5,88.0 L365.8,87.0 L369.2,85.2 L372.6,83.1 L376.0,81.8 L379.3,80.0 L382.7,78.9"/>
<path d="M50.4,205.5 L62.4,196.1 L65.8,193.5 L69.1,190.5 L72.5,187.6 L75.9,185.1 L79.2,182.3 L82.6,179.1 L86.0,176.3 L89.4,174.0 L92.7,170.9 L96.1,167.9 L99.5,165.5 L102.8,162.8 L106.2,160.0 L109.6,157.5 L113.0,155.4 L116.3,152.7 L119.7,149.9 L123.1,148.2 L126.4,146.0 L129.8,144.3 L133.2,142.0 L136.6,140.2 L139.9,138.6 L143.3,136.5 L146.7,135.3 L150.0,132.8 L153.4,131.3 L156.8,129.5 L160.2,127.6 L163.5,125.9 L166.9,123.7 L170.3,122.2 L173.6,121.0 L177.0,119.2 L180.4,116.8 L183.8,115.1 L187.1,113.1 L190.5,111.8 L193.9,109.9 L197.3,108.0 L200.6,106.8 L204.0,104.7 L207.4,103.5 L210.7,102.1 L214.1,100.4"/>
<path d="M53.0,205.5 L62.4,199.7 L65.8,197.6 L69.1,195.6 L72.5,194.2 L75.9,192.4 L79.2,190.6 L82.6,188.9 L86.0,187.2 L89.4,185.5 L92.7,183.9 L96.1,181.8 L99.5,179.8 L102.8,178.2 L106.2,176.6 L109.6,174.8 L113.0,172.6 L116.3,171.2 L119.7,169.2 L123.1,167.2 L126.4,165.6 L129.8,163.9 L133.2,162.0 L136.6,159.9 L139.9,158.4 L143.3,156.4 L146.7,154.6 L150.0,153.2 L153.4,151.1 L156.8,149.4 L160.2,147.7 L163.5,146.1 L166.9,143.9 L170.3,142.3 L173.6,140.6 L177.0,139.3 L180.4,137.4 L183.8,135.8 L187.1,134.0 L190.5,132.4 L193.9,130.8 L197.3,129.2 L200.6,127.8 L204.0,126.4 L207.4,124.6 L210.7,123.2 L214.1,122.3 L217.5,120.9 L220.9,119.7 L224.2,118.1 L227.6,117.1 L231.0,115.8 L234.3,114.3 L237.7,113.4 L241.1,111.9 L244.5,110.9 L247.8,109.9 L251.2,108.4 L254.6,107.3 L257.9,105.5 L261.3,104.4 L264.7,103.0"/>
<path d="M50.8,205.5 L62.4,199.9 L65.8,198.1 L69.1,196.5 L72.5,195.1 L75.9,193.6 L79.2,192.0 L82.6,190.1 L86.0,188.9 L89.4,186.9 L92.7,185.2 L96.1,184.0 L99.5,182.4 L102.8,180.6 L106.2,179.4 L109.6,177.4 L113.0,175.9 L116.3,174.0 L119.7,172.9 L123.1,171.3 L126.4,169.6 L129.8,168.1 L133.2,166.5 L136.6,165.1 L139.9,163.4 L143.3,162.2 L146.7,160.7 L150.0,159.3 L153.4,157.6 L156.8,156.4 L160.2,154.6 L163.5,153.3"/>
<path d="M47.5,205.3 L51.5,202.8 L62.4,194.0 L65.8,191.0 L69.1,187.4 L72.5,184.1 L75.9,181.1 L79.2,177.6 L82.6,174.1 L86.0,171.2 L89.4,167.6 L92.7,164.5 L96.1,161.5 L99.5,158.3 L102.8,155.5 L106.2,152.6 L109.6,150.0 L113.0,147.1 L116.3,144.5 L119.7,142.2 L123.1,139.7 L126.4,137.2 L129.8,135.4 L133.2,133.2 L136.6,131.5 L139.9,129.4 L143.3,127.6 L146.7,125.7 L150.0,123.6 L153.4,121.9 L156.8,119.7 L160.2,118.0 L163.5,116.0 L166.9,114.1 L170.3,112.4 L173.6,110.6 L177.0,108.9 L180.4,107.3 L183.8,105.4 L187.1,104.0 L190.5,102.2 L193.9,100.5 L197.3,99.5 L200.6,97.8 L204.0,97.0 L207.4,95.5 L210.7,94.0 L214.1,92.3 L217.5,91.7 L220.9,90.4 L224.2,89.1 L227.6,88.1 L231.0,86.4 L234.3,85.6 L237.7,84.5 L241.1,83.3 L244.5,82.5 L247.8,81.2 L251.2,80.0 L254.6,78.9 L257.9,77.8"/>
<path d="M50.6,205.5 L62.4,191.3 L65.8,187.6 L69.1,183.1 L72.5,179.2 L75.9,175.7 L79.2,171.7 L82.6,167.9 L86.0,164.2 L89.4,160.5 L92.7,157.1 L96.1,153.2 L99.5,149.8 L102.8,147.0 L106.2,144.3 L109.6,140.6 L113.0,137.9 L116.3,134.7 L119.7,132.3 L123.1,130.4 L126.4,128.5 L129.8,127.0 L133.2,125.4 L136.6,124.2 L139.9,122.8 L143.3,121.3"/>
<path d="M52.3,205.5 L62.4,200.2 L65.8,199.2 L69.1,198.4 L72.5,196.5 L75.9,195.4 L79.2,193.9 L82.6,192.7 L86.0,191.1 L89.4,190.2 L92.7,188.7 L96.1,187.4 L99.5,185.5 L102.8,184.3 L106.2,182.4 L109.6,180.7 L113.0,179.3 L116.3,177.8 L119.7,176.0 L123.1,174.4 L126.4,172.9 L129.8,171.0 L133.2,169.8 L136.6,167.5 L139.9,165.5 L143.3,163.7 L146.7,161.6 L150.0,159.7 L153.4,157.9 L156.8,156.5 L160.2,154.6 L163.5,153.0 L166.9,151.1 L170.3,149.4 L173.6,147.7 L177.0,146.1 L180.4,144.5 L183.8,143.0 L187.1,141.1 L190.5,139.7 L193.9,137.9 L197.3,136.7 L200.6,135.0 L204.0,132.9 L207.4,131.6 L210.7,129.7 L214.1,128.5 L217.5,126.1 L220.9,125.3 L224.2,124.2 L227.6,122.4 L231.0,121.2 L234.3,119.8 L237.7,118.3 L241.1,117.4 L244.5,115.7 L247.8,114.5 L251.2,113.0 L254.6,111.4 L257.9,110.5 L261.3,109.2 L264.7,108.6 L268.1,107.7 L271.4,106.6 L274.8,105.6 L278.2,104.2 L281.5,103.1 L284.9,101.9 L288.3,101.2 L291.7,100.0 L295.0,98.8 L298.4,98.3 L301.8,97.4 L305.1,96.2 L308.5,95.5 L311.9,94.6 L315.3,93.5 L318.6,93.0 L322.0,92.3 L325.4,91.4 L328.8,90.3 L332.1,89.6 L335.5,89.0 L338.9,88.2 L342.2,87.5 L345.6,86.9 L349.0,86.0 L352.4,85.1 L355.7,84.2 L359.1,82.7 L362.5,80.8 L365.8,79.7 L369.2,77.4 L372.6,75.1 L376.0,72.7 L379.3,70.1 L382.7,67.9 L386.1,65.3"/>
<path d="M50.1,205.5 L62.4,197.2 L65.8,194.6 L69.1,191.8 L72.5,190.2 L75.9,186.9 L79.2,184.5 L82.6,181.9 L86.0,179.4 L89.4,177.1 L92.7,174.2 L96.1,171.9 L99.5,169.4 L102.8,167.1 L106.2,164.6 L109.6,162.0 L113.0,159.7 L116.3,157.4 L119.7,155.2 L123.1,153.1 L126.4,151.1 L129.8,149.1 L133.2,146.9 L136.6,145.0 L139.9,142.4 L143.3,140.6 L146.7,138.0 L150.0,136.3 L153.4,134.3 L156.8,132.8 L160.2,130.7 L163.5,129.2 L166.9,127.2 L170.3,125.5 L173.6,123.2 L177.0,121.3 L180.4,119.3 L183.8,118.2 L187.1,116.1 L190.5,114.9 L193.9,113.0 L197.3,111.6 L200.6,110.3 L204.0,109.1 L207.4,107.0 L210.7,105.8 L214.1,105.1 L217.5,103.5 L220.9,102.2 L224.2,101.0 L227.6,99.8 L231.0,98.6 L234.3,96.9 L237.7,95.9 L241.1,94.8 L244.5,93.3 L247.8,92.5 L251.2,91.1 L254.6,89.4 L257.9,87.9 L261.3,87.2 L264.7,85.0 L268.1,83.6 L271.4,82.6 L274.8,81.0 L278.2,78.9 L281.5,77.7 L284.9,75.7 L288.3,74.0 L291.7,72.7 L295.0,71.5 L298.4,69.9 L301.8,68.8 L305.1,68.4 L308.5,67.8"/>
<path d="M52.7,205.5 L62.4,194.1 L65.8,190.1 L69.1,187.0 L72.5,183.7 L75.9,180.2 L79.2,177.0 L82.6,173.6 L86.0,169.7 L89.4,167.2 L92.7,163.9 L96.1,160.6 L99.5,157.6 L102.8,154.7 L106.2,152.0 L109.6,148.8 L113.0,146.3 L116.3,143.8 L119.7,141.4 L123.1,139.0 L126.4,137.0 L129.8,134.9 L133.2,133.3 L136.6,131.6 L139.9,129.9 L143.3,128.6 L146.7,126.7 L150.0,125.1 L153.4,123.2 L156.8,121.5 L160.2,119.6 L163.5,118.4 L166.9,116.9 L170.3,115.4 L173.6,113.4 L177.0,111.5 L180.4,110.0 L183.8,108.6 L187.1,106.5 L190.5,105.3 L193.9,102.9 L197.3,101.0 L200.6,99.4 L204.0,97.6 L207.4,95.8 L210.7,94.4 L214.1,92.0 L217.5,90.7 L220.9,88.0 L224.2,86.9 L227.6,84.7 L231.0,83.3 L234.3,81.9 L237.7,80.0 L241.1,78.7 L244.5,77.4 L247.8,76.0 L251.2,74.7 L254.6,73.5 L257.9,72.4 L261.3,72.0 L264.7,71.3 L268.1,70.7 L271.4,70.1 L274.8,69.7 L278.2,69.5 L281.5,69.0 L284.9,69.0 L288.3,67.9 L291.7,67.4 L295.0,66.9 L298.4,66.4 L301.8,65.8 L305.1,64.9 L308.5,63.6 L311.9,63.1 L315.3,62.3 L318.6,61.8 L322.0,60.5 L325.4,59.7 L328.8,58.8 L332.1,58.0 L335.5,57.2"/>
<path d="M52.2,205.5 L62.4,198.4 L65.8,196.1 L69.1,194.5 L72.5,192.7 L75.9,190.0 L79.2,188.0 L82.6,185.9 L86.0,183.6 L89.4,181.8 L92.7,179.2 L96.1,177.6 L99.5,175.2 L102.8,173.2 L106.2,170.9 L109.6,169.2 L113.0,166.5 L116.3,164.5 L119.7,162.5 L123.1,160.6 L126.4,158.9 L129.8,156.6 L133.2,154.7 L136.6,153.0 L139.9,150.3 L143.3,148.6 L146.7,146.5 L150.0,144.4 L153.4,142.7 L156.8,141.2 L160.2,138.8 L163.5,137.0 L166.9,135.1"/>
<path d="M51.9,205.5 L62.4,196.0 L65.8,193.5 L69.1,190.9 L72.5,188.1 L75.9,185.2 L79.2,182.4 L82.6,179.7 L86.0,176.9 L89.4,174.4 L92.7,171.2 L96.1,168.9 L99.5,166.3 L102.8,163.5 L106.2,160.6 L109.6,158.3 L113.0,155.6 L116.3,152.7 L119.7,150.8 L123.1,147.9 L126.4,145.8 L129.8,143.6 L133.2,141.5 L136.6,139.5 L139.9,137.6 L143.3,135.0 L146.7,133.0 L150.0,131.4 L153.4,128.7 L156.8,127.0 L160.2,125.2 L163.5,123.0 L166.9,121.0 L170.3,119.5 L173.6,117.8 L177.0,116.2"/>
<path d="M50.9,205.5 L62.4,194.7 L65.8,191.6 L69.1,187.8 L72.5,185.2 L75.9,181.9 L79.2,178.6 L82.6,175.2 L86.0,172.2 L89.4,169.5 L92.7,166.3 L96.1,163.2 L99.5,160.0 L102.8,157.6 L106.2,154.2 L109.6,151.8 L113.0,149.3 L116.3,146.4 L119.7,143.7 L123.1,141.7 L126.4,139.3 L129.8,136.9 L133.2,134.8 L136.6,133.0 L139.9,130.8 L143.3,128.6 L146.7,127.3 L150.0,125.2 L153.4,123.3 L156.8,121.4 L160.2,119.8 L163.5,118.2 L166.9,116.5 L170.3,114.8 L173.6,112.6 L177.0,110.7 L180.4,109.0 L183.8,107.1 L187.1,105.8 L190.5,103.8 L193.9,102.2 L197.3,100.9 L200.6,99.7 L204.0,98.0 L207.4,96.2 L210.7,95.6 L214.1,94.4 L217.5,93.5 L220.9,92.5 L224.2,91.6 L227.6,90.4 L231.0,89.5 L234.3,88.4 L237.7,87.7 L241.1,86.5 L244.5,85.6 L247.8,84.0 L251.2,83.7 L254.6,81.8 L257.9,81.4 L261.3,80.2 L264.7,79.5 L268.1,78.1 L271.4,77.5 L274.8,76.2 L278.2,75.2 L281.5,74.1 L284.9,73.4 L288.3,72.2 L291.7,70.9 L295.0,69.8 L298.4,69.0 L301.8,68.0 L305.1,67.5 L308.5,66.1 L311.9,65.1 L315.3,64.5 L318.6,63.4 L322.0,62.6 L325.4,62.1 L328.8,61.1 L332.1,60.6 L335.5,59.3 L338.9,58.4 L342.2,57.7 L345.6,56.8"/>
<path d="M47.8,204.9 L51.8,200.1 L62.4,198.1 L65.8,195.9 L69.1,193.5 L72.5,191.1 L75.9,189.2 L79.2,186.7 L82.6,184.3 L86.0,182.1 L89.4,180.1 L92.7,177.3 L96.1,175.3 L99.5,172.9 L102.8,170.8 L106.2,168.7 L109.6,167.3 L113.0,164.6 L116.3,162.8 L119.7,160.9 L123.1,158.9 L126.4,157.2 L129.8,155.5 L133.2,154.2 L136.6,152.2 L139.9,150.6 L143.3,148.9 L146.7,147.3 L150.0,145.5 L153.4,143.7 L156.8,142.0 L160.2,140.0 L163.5,138.8 L166.9,137.2 L170.3,135.6 L173.6,134.2 L177.0,132.9 L180.4,131.3 L183.8,129.5 L187.1,128.1 L190.5,125.8 L193.9,124.6 L197.3,123.0 L200.6,121.0 L204.0,118.9 L207.4,117.5 L210.7,115.4 L214.1,113.2 L217.5,111.7 L220.9,109.4 L224.2,107.4 L227.6,105.8 L231.0,103.9 L234.3,102.2 L237.7,100.4 L241.1,99.4"/>
<path d="M51.7,205.5 L62.4,197.0 L65.8,194.6 L69.1,192.0 L72.5,189.3 L75.9,186.9 L79.2,184.4 L82.6,182.5 L86.0,179.3 L89.4,177.0 L92.7,174.6 L96.1,172.1 L99.5,169.4 L102.8,166.8 L106.2,164.7 L109.6,161.9 L113.0,159.5 L116.3,157.1 L119.7,155.1 L123.1,152.7 L126.4,150.8 L129.8,148.5 L133.2,146.5 L136.6,144.4 L139.9,142.6 L143.3,140.5 L146.7,138.4 L150.0,136.9 L153.4,135.2 L156.8,133.4 L160.2,131.5 L163.5,129.6 L166.9,127.6 L170.3,126.0 L173.6,123.7 L177.0,122.4 L180.4,120.2 L183.8,118.7 L187.1,116.8 L190.5,115.1 L193.9,113.0"/>
<path d="M52.8,205.5 L62.4,196.0 L65.8,193.1 L69.1,190.2 L72.5,187.5 L75.9,184.7 L79.2,181.8 L82.6,178.9 L86.0,176.1 L89.4,173.3 L92.7,170.5 L96.1,167.5 L99.5,165.4 L102.8,162.8 L106.2,159.9 L109.6,157.3 L113.0,155.5 L116.3,152.5 L119.7,150.7 L123.1,149.1 L126.4,147.0 L129.8,145.1 L133.2,143.6 L136.6,141.8 L139.9,140.6 L143.3,139.0 L146.7,137.4 L150.0,135.1 L153.4,133.7 L156.8,132.2 L160.2,130.4 L163.5,129.3 L166.9,127.7 L170.3,125.7 L173.6,124.4 L177.0,122.6 L180.4,120.7 L183.8,119.7 L187.1,117.8 L190.5,116.2 L193.9,114.4 L197.3,112.9 L200.6,111.3 L204.0,109.8 L207.4,108.1 L210.7,106.8 L214.1,104.5 L217.5,103.7 L220.9,102.2 L224.2,100.6 L227.6,99.2"/>
<path d="M51.8,205.5 L62.4,201.0 L65.8,200.2 L69.1,199.5 L72.5,198.5 L75.9,197.3 L79.2,196.4 L82.6,195.3 L86.0,194.5 L89.4,192.3 L92.7,192.1 L96.1,190.7 L99.5,189.6 L102.8,188.4 L106.2,186.8 L109.6,185.6 L113.0,184.5 L116.3,183.4 L119.7,181.8 L123.1,180.5 L126.4,178.5 L129.8,176.5 L133.2,174.9 L136.6,173.1 L139.9,171.7 L143.3,170.0 L146.7,168.0 L150.0,166.4 L153.4,164.9 L156.8,163.3 L160.2,161.4 L163.5,159.2 L166.9,157.3 L170.3,155.0 L173.6,152.9 L177.0,151.4 L180.4,149.7 L183.8,147.8 L187.1,146.5 L190.5,145.8 L193.9,144.3 L197.3,143.4 L200.6,142.7 L204.0,141.4 L207.4,140.8 L210.7,139.3 L214.1,137.9 L217.5,136.7 L220.9,137.0 L224.2,135.3 L227.6,135.0 L231.0,134.5 L234.3,133.7 L237.7,133.1 L241.1,132.1 L244.5,131.7 L247.8,129.9 L251.2,128.4 L254.6,127.2 L257.9,126.1 L261.3,123.9 L264.7,122.2 L268.1,119.7 L271.4,118.1 L274.8,115.5 L278.2,113.8 L281.5,112.1 L284.9,110.8 L288.3,108.5 L291.7,106.6 L295.0,105.3 L298.4,103.9 L301.8,102.6 L305.1,101.9 L308.5,101.2 L311.9,100.0 L315.3,99.4 L318.6,98.2 L322.0,97.2 L325.4,96.8 L328.8,95.8 L332.1,94.5 L335.5,94.3 L338.9,93.7 L342.2,92.7 L345.6,91.4 L349.0,91.0 L352.4,90.2 L355.7,88.8 L359.1,87.1 L362.5,85.8 L365.8,83.9 L369.2,81.8 L372.6,78.5 L376.0,76.2 L379.3,73.0 L382.7,69.9"/>
<path d="M50.4,205.5 L62.4,198.0 L65.8,195.5 L69.1,192.8 L72.5,191.0 L75.9,188.4 L79.2,186.6 L82.6,184.4 L86.0,181.9 L89.4,179.3 L92.7,177.2 L96.1,174.6 L99.5,172.7 L102.8,170.3 L106.2,168.2 L109.6,165.6 L113.0,163.6 L116.3,161.5 L119.7,159.7 L123.1,157.1 L126.4,154.8 L129.8,152.3 L133.2,150.2 L136.6,147.8 L139.9,145.8 L143.3,143.7 L146.7,141.8 L150.0,139.0 L153.4,137.2 L156.8,135.8 L160.2,133.6 L163.5,131.5 L166.9,129.7 L170.3,127.9 L173.6,126.0 L177.0,123.7 L180.4,122.2 L183.8,120.9 L187.1,118.4 L190.5,117.2 L193.9,115.2 L197.3,113.7 L200.6,112.2 L204.0,110.4 L207.4,109.0 L210.7,107.7 L214.1,106.1 L217.5,104.8 L220.9,104.0 L224.2,102.4 L227.6,101.3 L231.0,100.2 L234.3,99.0 L237.7,98.0 L241.1,97.3 L244.5,96.0 L247.8,95.1 L251.2,93.9 L254.6,92.9 L257.9,91.9 L261.3,91.0 L264.7,90.0 L268.1,89.2 L271.4,88.5 L274.8,87.6 L278.2,86.7 L281.5,85.7 L284.9,85.0 L288.3,84.3 L291.7,83.1 L295.0,82.7 L298.4,81.7 L301.8,80.8 L305.1,79.7 L308.5,79.0"/>
<path d="M46.4,205.6 L50.4,202.1 L62.4,198.1 L65.8,196.0 L69.1,194.2 L72.5,192.0 L75.9,189.4 L79.2,187.3 L82.6,185.2 L86.0,183.2 L89.4,180.7 L92.7,178.7 L96.1,176.8 L99.5,174.0 L102.8,172.3 L106.2,170.2 L109.6,167.9 L113.0,165.6 L116.3,164.2 L119.7,161.9 L123.1,160.2 L126.4,158.1 L129.8,156.7 L133.2,154.6 L136.6,153.1 L139.9,152.1 L143.3,150.5 L146.7,148.7 L150.0,146.7 L153.4,145.0 L156.8,143.8 L160.2,141.6 L163.5,140.2 L166.9,138.0 L170.3,136.4 L173.6,134.6 L177.0,133.0 L180.4,131.9 L183.8,130.3 L187.1,128.6 L190.5,126.4 L193.9,125.1 L197.3,123.2 L200.6,121.4 L204.0,119.6 L207.4,118.0 L210.7,115.9 L214.1,114.0 L217.5,112.7 L220.9,111.3 L224.2,109.7 L227.6,108.0 L231.0,107.0 L234.3,105.9 L237.7,104.3 L241.1,102.4 L244.5,100.6 L247.8,99.8 L251.2,98.2"/>
<path d="M52.3,205.5 L62.4,199.2 L65.8,197.2 L69.1,195.2 L72.5,193.7 L75.9,192.0 L79.2,189.9 L82.6,187.8 L86.0,185.9 L89.4,183.9 L92.7,182.2 L96.1,179.9 L99.5,178.0 L102.8,175.9 L106.2,173.9 L109.6,172.4 L113.0,170.0 L116.3,167.6 L119.7,165.9 L123.1,163.7 L126.4,161.1 L129.8,158.9 L133.2,156.9 L136.6,154.4 L139.9,152.3 L143.3,150.2 L146.7,147.8 L150.0,145.7 L153.4,144.1 L156.8,142.0 L160.2,139.9 L163.5,137.4 L166.9,135.4 L170.3,133.2 L173.6,131.4 L177.0,129.3 L180.4,127.3 L183.8,125.2 L187.1,123.2 L190.5,122.0 L193.9,120.6 L197.3,119.1 L200.6,117.6 L204.0,116.9 L207.4,115.4 L210.7,114.8 L214.1,114.2 L217.5,113.7 L220.9,113.2 L224.2,112.6 L227.6,112.4 L231.0,112.3 L234.3,111.8 L237.7,111.3 L241.1,110.8"/>
<path d="M51.1,205.5 L62.4,198.4 L65.8,196.5 L69.1,194.9 L72.5,192.6 L75.9,190.6 L79.2,188.7 L82.6,186.7 L86.0,184.4 L89.4,182.9 L92.7,180.9 L96.1,178.8 L99.5,177.1 L102.8,175.4 L106.2,173.2 L109.6,171.0 L113.0,169.0 L116.3,167.2 L119.7,165.1 L123.1,163.2 L126.4,161.5 L129.8,159.7 L133.2,158.2 L136.6,156.3 L139.9,154.4 L143.3,152.2 L146.7,150.6 L150.0,148.8 L153.4,147.0 L156.8,144.6 L160.2,143.4 L163.5,141.0 L166.9,139.5 L170.3,137.8 L173.6,136.0 L177.0,134.2 L180.4,132.8 L183.8,130.9 L187.1,129.4 L190.5,127.7 L193.9,126.4 L197.3,124.4 L200.6,123.2 L204.0,122.1 L207.4,121.0 L210.7,119.6 L214.1,119.0 L217.5,117.6 L220.9,116.5 L224.2,115.8 L227.6,115.0 L231.0,114.3 L234.3,113.0 L237.7,112.1 L241.1,111.5 L244.5,110.5 L247.8,109.5 L251.2,107.7 L254.6,106.5 L257.9,105.2 L261.3,103.5 L264.7,101.7 L268.1,100.0 L271.4,98.1 L274.8,96.8 L278.2,95.0 L281.5,93.0 L284.9,91.3 L288.3,90.4 L291.7,88.2 L295.0,87.1 L298.4,86.2 L301.8,85.1 L305.1,84.5 L308.5,83.4 L311.9,82.7 L315.3,81.8 L318.6,81.2 L322.0,80.9 L325.4,80.9 L328.8,80.2 L332.1,79.7 L335.5,79.3"/>
<path d="M50.6,205.5 L62.4,199.3 L65.8,196.9 L69.1,195.6 L72.5,193.6 L75.9,191.6 L79.2,189.8 L82.6,188.3 L86.0,186.7 L89.4,184.2 L92.7,182.3 L96.1,180.4 L99.5,178.8 L102.8,176.7 L106.2,174.6 L109.6,172.8 L113.0,171.2 L116.3,169.2 L119.7,167.3 L123.1,164.7 L126.4,163.2 L129.8,161.2 L133.2,159.1 L136.6,157.0 L139.9,155.1 L143.3,153.1 L146.7,151.7 L150.0,149.6 L153.4,147.6 L156.8,145.8 L160.2,143.7 L163.5,141.9 L166.9,140.0 L170.3,138.0 L173.6,135.8 L177.0,134.8"/>
<path d="M52.8,205.5 L62.4,200.1 L65.8,199.0 L69.1,197.8 L72.5,196.9 L75.9,195.4 L79.2,193.9 L82.6,192.5 L86.0,191.0 L89.4,189.7 L92.7,188.3 L96.1,187.0 L99.5,185.4 L102.8,184.5 L106.2,182.7 L109.6,181.3 L113.0,180.2 L116.3,179.2 L119.7,177.9 L123.1,176.4 L126.4,174.9 L129.8,173.8 L133.2,172.0 L136.6,170.6 L139.9,169.6 L143.3,168.5 L146.7,166.9 L150.0,165.7 L153.4,164.0 L156.8,162.9 L160.2,161.4 L163.5,159.8 L166.9,158.6 L170.3,157.4 L173.6,156.0 L177.0,154.7 L180.4,153.2 L183.8,151.5 L187.1,150.1 L190.5,149.4 L193.9,147.2 L197.3,145.9 L200.6,143.8 L204.0,142.2 L207.4,140.3 L210.7,138.2 L214.1,136.3 L217.5,134.0 L220.9,132.2 L224.2,130.4 L227.6,128.9 L231.0,127.3 L234.3,125.2 L237.7,123.5 L241.1,121.7 L244.5,120.5 L247.8,118.7 L251.2,117.6 L254.6,116.0 L257.9,115.1 L261.3,114.2 L264.7,113.0"/>
<path d="M52.7,205.5 L62.4,201.0 L65.8,200.4 L69.1,199.7 L72.5,198.6 L75.9,197.3 L79.2,196.5 L82.6,195.2 L86.0,194.0 L89.4,192.7 L92.7,191.8 L96.1,190.8 L99.5,189.5 L102.8,188.5 L106.2,186.6 L109.6,185.6 L113.0,184.4 L116.3,182.8 L119.7,181.1 L123.1,179.6 L126.4,177.9 L129.8,176.4 L133.2,174.2 L136.6,172.5 L139.9,170.4 L143.3,168.6 L146.7,166.6 L150.0,165.0 L153.4,162.9 L156.8,161.3 L160.2,159.1 L163.5,157.4 L166.9,155.4 L170.3,153.7 L173.6,152.4 L177.0,150.3 L180.4,148.3"/>
<path d="M51.7,205.5 L62.4,197.1 L65.8,194.4 L69.1,192.3 L72.5,190.0 L75.9,187.2 L79.2,184.8 L82.6,182.2 L86.0,180.0 L89.4,177.1 L92.7,174.7 L96.1,172.2 L99.5,170.2 L102.8,167.9 L106.2,165.2 L109.6,163.1 L113.0,161.0 L116.3,158.3 L119.7,156.6 L123.1,154.0 L126.4,151.7 L129.8,149.5 L133.2,148.0 L136.6,146.1 L139.9,144.4 L143.3,142.7 L146.7,140.8 L150.0,138.3 L153.4,136.4 L156.8,134.7 L160.2,133.0 L163.5,131.1 L166.9,129.3 L170.3,127.4 L173.6,125.4 L177.0,124.1 L180.4,121.9 L183.8,120.0 L187.1,118.2 L190.5,116.9 L193.9,114.9 L197.3,113.5 L200.6,112.7 L204.0,111.1 L207.4,109.0 L210.7,108.4 L214.1,107.1 L217.5,106.0 L220.9,104.8 L224.2,103.3 L227.6,102.3 L231.0,101.4 L234.3,99.9 L237.7,98.6 L241.1,97.3 L244.5,96.0 L247.8,95.3 L251.2,94.0 L254.6,92.2 L257.9,90.9 L261.3,89.4 L264.7,88.6 L268.1,86.8 L271.4,85.9 L274.8,84.1 L278.2,83.2 L281.5,81.8 L284.9,80.2 L288.3,79.7 L291.7,78.3 L295.0,77.0 L298.4,76.4 L301.8,75.0 L305.1,74.4 L308.5,73.8 L311.9,73.6 L315.3,73.1 L318.6,73.2 L322.0,72.8 L325.4,73.0 L328.8,73.2 L332.1,73.6 L335.5,73.3 L338.9,74.3 L342.2,74.8 L345.6,74.9 L349.0,75.0 L352.4,75.4 L355.7,75.2 L359.1,75.5 L362.5,75.8 L365.8,75.9 L369.2,76.3 L372.6,76.4 L376.0,76.4 L379.3,77.1"/>
<path d="M52.9,205.5 L62.4,198.7 L65.8,197.0 L69.1,194.9 L72.5,193.3 L75.9,191.6 L79.2,189.2 L82.6,187.5 L86.0,186.2 L89.4,183.9 L92.7,181.4 L96.1,179.5 L99.5,178.0 L102.8,176.4 L106.2,173.9 L109.6,172.0 L113.0,170.1 L116.3,168.2 L119.7,166.6 L123.1,164.8 L126.4,163.0"/>
<path d="M50.4,205.5 L62.4,201.2 L65.8,200.7 L69.1,199.6 L72.5,198.7 L75.9,197.8 L79.2,196.8 L82.6,195.6 L86.0,194.4 L89.4,193.3 L92.7,192.6 L96.1,191.2 L99.5,189.9 L102.8,188.7 L106.2,187.5 L109.6,185.9 L113.0,184.9 L116.3,183.4 L119.7,181.7 L123.1,180.2 L126.4,178.3 L129.8,176.4 L133.2,174.7 L136.6,172.7 L139.9,171.0 L143.3,168.8 L146.7,167.1 L150.0,165.2 L153.4,163.8 L156.8,161.8 L160.2,159.9 L163.5,158.1 L166.9,156.0 L170.3,154.2 L173.6,152.1 L177.0,150.4 L180.4,149.0 L183.8,147.2 L187.1,146.1 L190.5,144.5 L193.9,142.8 L197.3,141.7 L200.6,140.3 L204.0,138.6 L207.4,138.1 L210.7,136.2 L214.1,135.1 L217.5,134.3 L220.9,132.6 L224.2,131.3"/>
<path d="M51.1,205.5 L62.4,197.2 L65.8,194.6 L69.1,191.6 L72.5,188.9 L75.9,186.2 L79.2,183.4 L82.6,181.5 L86.0,178.8 L89.4,176.1 L92.7,173.5 L96.1,170.5 L99.5,168.2 L102.8,165.9 L106.2,163.0 L109.6,160.3 L113.0,157.7 L116.3,154.9 L119.7,152.4 L123.1,150.1 L126.4,147.4 L129.8,144.7 L133.2,142.2 L136.6,139.7 L139.9,137.7 L143.3,135.3 L146.7,133.0 L150.0,131.1 L153.4,128.4 L156.8,126.6"/>
<path d="M50.4,205.5 L62.4,200.0 L65.8,198.9 L69.1,197.6 L72.5,196.1 L75.9,194.7 L79.2,193.0 L82.6,191.9 L86.0,190.4 L89.4,189.0 L92.7,187.3 L96.1,185.7 L99.5,184.5 L102.8,182.7 L106.2,181.2 L109.6,179.5 L113.0,177.5 L116.3,176.2 L119.7,174.4 L123.1,173.4 L126.4,171.4 L129.8,169.5 L133.2,167.9 L136.6,165.7 L139.9,163.4 L143.3,162.3 L146.7,160.4 L150.0,158.7 L153.4,157.1 L156.8,154.8 L160.2,153.6 L163.5,151.9 L166.9,150.0 L170.3,148.6 L173.6,146.3 L177.0,145.2 L180.4,143.9 L183.8,142.7 L187.1,141.4 L190.5,139.6 L193.9,138.2 L197.3,137.0 L200.6,135.8 L204.0,134.6 L207.4,133.4 L210.7,132.9 L214.1,131.8 L217.5,131.1 L220.9,130.2 L224.2,130.0 L227.6,129.8 L231.0,129.2 L234.3,128.4 L237.7,127.6 L241.1,126.8 L244.5,126.1 L247.8,124.9 L251.2,123.6 L254.6,122.5 L257.9,120.5 L261.3,118.8 L264.7,117.3 L268.1,115.3 L271.4,112.6 L274.8,110.3 L278.2,107.7 L281.5,106.4 L284.9,104.9 L288.3,103.1 L291.7,101.4 L295.0,100.8 L298.4,99.2 L301.8,98.0 L305.1,96.7 L308.5,95.3 L311.9,94.1 L315.3,93.3 L318.6,91.7 L322.0,91.6 L325.4,90.7 L328.8,89.2 L332.1,88.6"/>
<path d="M51.8,205.5 L62.4,197.8 L65.8,194.8 L69.1,192.5 L72.5,190.3 L75.9,187.8 L79.2,185.4 L82.6,183.2 L86.0,180.4 L89.4,178.2 L92.7,175.6 L96.1,173.4 L99.5,171.4 L102.8,168.5 L106.2,166.5 L109.6,164.4 L113.0,162.2 L116.3,159.7 L119.7,157.1 L123.1,154.7 L126.4,152.9 L129.8,150.5 L133.2,148.5 L136.6,146.0 L139.9,143.7 L143.3,141.4 L146.7,139.2 L150.0,137.2 L153.4,135.1 L156.8,133.3 L160.2,130.4 L163.5,128.3 L166.9,126.0 L170.3,124.1 L173.6,122.5 L177.0,120.5 L180.4,117.9 L183.8,116.6 L187.1,114.7 L190.5,112.8 L193.9,111.1 L197.3,110.0 L200.6,108.2 L204.0,106.7 L207.4,106.1 L210.7,104.4 L214.1,103.1 L217.5,102.4 L220.9,101.9 L224.2,100.9 L227.6,99.9 L231.0,99.0 L234.3,97.6 L237.7,96.9 L241.1,96.0 L244.5,94.8 L247.8,93.4 L251.2,92.6 L254.6,91.2 L257.9,90.5 L261.3,89.5 L264.7,88.4"/>
<path d="M51.2,205.5 L62.4,199.4 L65.8,197.9 L69.1,195.9 L72.5,194.5 L75.9,192.6 L79.2,190.6 L82.6,189.2 L86.0,186.6 L89.4,185.0 L92.7,183.3 L96.1,181.6 L99.5,179.9 L102.8,177.7 L106.2,175.9 L109.6,174.1 L113.0,172.4 L116.3,170.5 L119.7,168.6 L123.1,166.5 L126.4,164.8 L129.8,163.1 L133.2,160.5 L136.6,159.2 L139.9,157.1 L143.3,155.3 L146.7,153.5 L150.0,151.7 L153.4,149.4 L156.8,147.4 L160.2,145.3 L163.5,143.5 L166.9,141.4 L170.3,139.9 L173.6,138.4 L177.0,136.1 L180.4,133.8 L183.8,132.5 L187.1,130.9 L190.5,129.1 L193.9,127.6 L197.3,125.8 L200.6,124.2 L204.0,122.8 L207.4,121.4 L210.7,120.2 L214.1,118.8 L217.5,116.9 L220.9,115.4 L224.2,114.0 L227.6,112.8 L231.0,111.1 L234.3,109.7"/>
<path d="M52.4,205.5 L62.4,192.5 L65.8,189.1 L69.1,185.6 L72.5,181.8 L75.9,178.0 L79.2,174.7 L82.6,171.1 L86.0,167.5 L89.4,163.9 L92.7,161.1 L96.1,157.7 L99.5,154.5 L102.8,151.4 L106.2,149.0 L109.6,145.3 L113.0,141.9 L116.3,139.5 L119.7,136.6 L123.1,134.2 L126.4,133.0 L129.8,130.8 L133.2,129.4 L136.6,127.6 L139.9,126.6 L143.3,124.6 L146.7,123.1 L150.0,121.3 L153.4,119.5 L156.8,118.2 L160.2,116.3 L163.5,114.9 L166.9,113.1 L170.3,111.7 L173.6,110.6 L177.0,108.8 L180.4,108.0 L183.8,106.2 L187.1,104.6 L190.5,103.0 L193.9,101.0 L197.3,98.9 L200.6,96.9 L204.0,95.4 L207.4,94.2 L210.7,93.0 L214.1,91.5 L217.5,89.6 L220.9,88.0 L224.2,86.3 L227.6,85.4 L231.0,83.7 L234.3,82.2 L237.7,80.6 L241.1,79.3 L244.5,78.1 L247.8,76.7"/>
<path d="M51.1,205.5 L62.4,195.0 L65.8,191.5 L69.1,187.9 L72.5,185.2 L75.9,181.8 L79.2,178.9 L82.6,175.5 L86.0,172.6 L89.4,169.3 L92.7,166.8 L96.1,163.4 L99.5,160.2 L102.8,157.5 L106.2,154.6 L109.6,151.7 L113.0,149.2 L116.3,146.8 L119.7,144.1 L123.1,141.7 L126.4,139.3 L129.8,137.3 L133.2,135.5 L136.6,133.3 L139.9,131.2 L143.3,129.3 L146.7,127.6 L150.0,125.3 L153.4,123.2 L156.8,121.4 L160.2,119.7 L163.5,118.0 L166.9,115.7 L170.3,114.0 L173.6,112.0 L177.0,110.8 L180.4,108.8 L183.8,107.4 L187.1,105.6 L190.5,104.3 L193.9,102.5 L197.3,101.1 L200.6,99.8 L204.0,98.1 L207.4,96.6 L210.7,95.3 L214.1,94.0 L217.5,92.7 L220.9,91.4"/>
</g>
<g fill="none" stroke="#ff0000" stroke-width="2.6" stroke-linejoin="round" stroke-linecap="round">
<path d="M51.30,205.00 L54.32,201.15 L57.34,197.49 L60.36,193.87 L63.38,190.27 L66.40,186.70 L69.42,183.16 L72.45,179.65 L75.47,176.17 L78.49,172.71 L81.51,169.29 L84.53,165.89 L87.55,162.53 L90.57,159.19 L93.59,155.88 L96.61,152.60 L99.63,149.35 L102.65,146.13 L105.67,142.93 L108.70,139.77 L111.72,136.63 L114.74,133.52 L117.76,130.44 L120.78,127.39 L123.80,124.37 L126.80,122.06 L129.80,119.52 L132.81,117.02 L135.81,114.57 L138.81,112.16 L141.81,109.80 L144.82,107.49 L147.82,105.21 L150.82,102.98 L153.82,100.80 L156.82,98.66 L159.83,96.56 L162.83,94.50 L165.83,92.48 L168.83,90.50 L171.84,88.56 L174.84,86.66 L177.84,84.80 L180.84,82.98 L183.85,81.19 L186.85,79.45 L189.85,77.74 L192.85,76.06 L195.85,74.42 L198.86,72.82 L201.86,71.25 L204.86,69.71 L207.86,68.21 L210.87,66.74 L213.87,65.31 L216.87,63.90 L219.87,62.53 L222.88,61.18 L225.88,59.87 L228.88,58.59 L231.88,57.33 L234.88,56.11 L237.89,54.91 L240.89,53.74 L243.89,52.60 L246.89,51.48 L249.90,50.39 L252.90,49.33 L255.90,48.29 L258.90,47.27 L261.90,46.28 L264.91,45.31 L267.91,44.36 L270.91,43.44 L273.91,42.54 L276.92,41.66 L279.92,40.80 L282.92,39.96 L285.92,39.14 L288.92,38.34 L291.93,37.55 L294.93,36.79 L297.93,36.04 L300.93,35.31 L303.94,34.60 L306.94,33.90 L309.94,33.21 L312.94,32.55 L315.95,31.89 L318.95,31.25 L321.95,30.62 L324.95,30.01 L327.95,29.41 L330.96,28.81 L333.96,28.23 L336.96,27.66 L339.96,27.10 L342.97,26.55 L345.97,26.01 L348.97,25.48 L351.97,24.95 L354.97,24.44 L357.98,23.93 L360.98,23.42 L363.98,22.92 L366.98,22.43 L369.99,21.94 L372.99,21.45 L375.99,20.97 L378.99,20.49 L382.00,20.02 L385.00,19.54 L388.00,19.07"/>
<path d="M51.30,205.00 L54.31,202.70 L57.31,200.21 L60.32,197.71 L63.32,195.18 L66.33,192.63 L69.34,190.07 L72.34,187.50 L75.35,184.91 L78.36,182.32 L81.36,179.73 L84.37,177.14 L87.38,174.55 L90.38,171.97 L93.39,169.40 L96.39,166.84 L99.40,164.30 L102.41,161.78 L105.41,159.28 L108.42,156.81 L111.42,154.36 L114.43,151.95 L117.44,149.57 L120.44,147.23 L123.45,144.92 L126.46,142.64 L129.46,140.39 L132.47,138.18 L135.47,136.00 L138.48,133.85 L141.49,131.73 L144.49,129.64 L147.50,127.58 L150.51,125.56 L153.51,123.56 L156.52,121.60 L159.53,119.66 L162.53,117.76 L165.54,115.88 L168.54,114.03 L171.55,112.21 L174.56,110.42 L177.56,108.66 L180.57,106.93 L183.57,105.22 L186.58,103.54 L189.59,101.89 L192.59,100.26 L195.60,98.66 L198.61,97.09 L201.61,95.54 L204.62,94.02 L207.62,92.52 L210.63,91.05 L213.64,89.60 L216.64,88.18 L219.65,86.77 L222.66,85.40 L225.66,84.04 L228.67,82.71 L231.68,81.40 L234.68,80.12 L237.69,78.85 L240.69,77.61 L243.70,76.39 L246.71,75.19 L249.71,74.01 L252.72,72.85 L255.73,71.71 L258.73,70.59 L261.74,69.49 L264.74,68.40 L267.75,67.34 L270.76,66.30 L273.76,65.27 L276.77,64.26 L279.77,63.27 L282.78,62.30 L285.79,61.34 L288.79,60.40 L291.80,59.48 L294.81,58.57 L297.81,57.67 L300.82,56.80 L303.82,55.93 L306.83,55.09 L309.84,54.25 L312.84,53.43 L315.85,52.63 L318.86,51.83 L321.86,51.06 L324.87,50.29 L327.88,49.53 L330.88,48.79 L333.89,48.06 L336.89,47.34 L339.90,46.64 L342.91,45.94 L345.91,45.25 L348.92,44.58 L351.93,43.91 L354.93,43.26 L357.94,42.61 L360.94,41.97 L363.95,41.34 L366.96,40.72 L369.96,40.11 L372.97,39.50 L375.98,38.91 L378.98,38.31 L381.99,37.73 L384.99,37.15 L388.00,36.58"/>
<path d="M51.30,205.00 L54.31,203.51 L57.31,201.82 L60.32,200.12 L63.32,198.42 L66.33,196.71 L69.34,195.00 L72.34,193.28 L75.35,191.55 L78.36,189.82 L81.36,188.09 L84.37,186.35 L87.38,184.61 L90.38,182.87 L93.39,181.13 L96.39,179.38 L99.40,177.64 L102.41,175.89 L105.41,174.15 L108.42,172.40 L111.42,170.66 L114.43,168.92 L117.44,167.18 L120.44,165.44 L123.45,163.71 L126.46,161.98 L129.46,160.26 L132.47,158.54 L135.47,156.82 L138.48,155.11 L141.49,153.41 L144.49,151.71 L147.50,150.03 L150.51,148.34 L153.51,146.67 L156.52,145.01 L159.53,143.35 L162.53,141.71 L165.54,140.08 L168.54,138.45 L171.55,136.84 L174.56,135.24 L177.56,133.65 L180.57,132.08 L183.57,130.51 L186.58,128.97 L189.59,127.43 L192.59,125.92 L195.60,124.41 L198.61,122.92 L201.61,121.45 L204.62,120.00 L207.62,118.56 L210.63,117.14 L213.64,115.74 L216.64,114.36 L219.65,113.00 L222.66,111.66 L225.66,110.34 L228.67,109.04 L231.68,107.76 L234.68,106.50 L237.69,105.26 L240.69,104.04 L243.70,102.84 L246.71,101.66 L249.71,100.50 L252.72,99.36 L255.73,98.24 L258.73,97.13 L261.74,96.04 L264.74,94.97 L267.75,93.92 L270.76,92.88 L273.76,91.85 L276.77,90.84 L279.77,89.85 L282.78,88.87 L285.79,87.91 L288.79,86.96 L291.80,86.02 L294.81,85.10 L297.81,84.18 L300.82,83.28 L303.82,82.40 L306.83,81.52 L309.84,80.65 L312.84,79.80 L315.85,78.95 L318.86,78.12 L321.86,77.29 L324.87,76.48 L327.88,75.67 L330.88,74.87 L333.89,74.08 L336.89,73.30 L339.90,72.52 L342.91,71.75 L345.91,70.99 L348.92,70.23 L351.93,69.48 L354.93,68.73 L357.94,67.99 L360.94,67.25 L363.95,66.51 L366.96,65.78 L369.96,65.06 L372.97,64.33 L375.98,63.61 L378.98,62.89 L381.99,62.17 L384.99,61.45 L388.00,60.74"/>
<path d="M51.30,205.00 L54.31,203.57 L57.31,202.65 L60.32,201.71 L63.32,200.76 L66.33,199.81 L69.34,198.84 L72.34,197.86 L75.35,196.87 L78.36,195.87 L81.36,194.87 L84.37,193.85 L87.38,192.82 L90.38,191.78 L93.39,190.73 L96.39,189.68 L99.40,188.61 L102.41,187.54 L105.41,186.45 L108.42,185.36 L111.42,184.26 L114.43,183.15 L117.44,182.03 L120.44,180.91 L123.45,179.78 L126.46,178.63 L129.46,177.48 L132.47,176.33 L135.47,175.17 L138.48,174.00 L141.49,172.83 L144.49,171.66 L147.50,170.48 L150.51,169.30 L153.51,168.12 L156.52,166.93 L159.53,165.75 L162.53,164.57 L165.54,163.39 L168.54,162.21 L171.55,161.03 L174.56,159.86 L177.56,158.69 L180.57,157.53 L183.57,156.37 L186.58,155.22 L189.59,154.07 L192.59,152.94 L195.60,151.81 L198.61,150.69 L201.61,149.58 L204.62,148.48 L207.62,147.39 L210.63,146.31 L213.64,145.24 L216.64,144.17 L219.65,143.12 L222.66,142.08 L225.66,141.04 L228.67,140.01 L231.68,138.99 L234.68,137.98 L237.69,136.97 L240.69,135.98 L243.70,134.98 L246.71,134.00 L249.71,133.02 L252.72,132.05 L255.73,131.08 L258.73,130.12 L261.74,129.17 L264.74,128.22 L267.75,127.28 L270.76,126.34 L273.76,125.40 L276.77,124.47 L279.77,123.55 L282.78,122.62 L285.79,121.70 L288.79,120.79 L291.80,119.88 L294.81,118.97 L297.81,118.07 L300.82,117.17 L303.82,116.28 L306.83,115.39 L309.84,114.50 L312.84,113.63 L315.85,112.76 L318.86,111.89 L321.86,111.03 L324.87,110.18 L327.88,109.33 L330.88,108.49 L333.89,107.66 L336.89,106.83 L339.90,106.02 L342.91,105.21 L345.91,104.41 L348.92,103.61 L351.93,102.83 L354.93,102.05 L357.94,101.29 L360.94,100.53 L363.95,99.78 L366.96,99.05 L369.96,98.32 L372.97,97.60 L375.98,96.89 L378.98,96.20 L381.99,95.51 L384.99,94.84 L388.00,94.18"/>
</g></g>
<path d="M45.5,4.5 V206.5 H388.5 M40.5,206.50 H45.5 M40.5,177.64 H45.5 M40.5,148.79 H45.5 M40.5,119.93 H45.5 M40.5,91.07 H45.5 M40.5,62.21 H45.5 M40.5,33.36 H45.5 M40.5,4.50 H45.5 M45.50,206.5 V211.8 M159.67,206.5 V211.8 M273.83,206.5 V211.8 M388.00,206.5 V211.8" fill="none" stroke="#000" stroke-width="1"/>
<g font-family="Liberation Sans, sans-serif" font-size="14" fill="#000">
<text x="37.5" y="211.50" text-anchor="end">0</text>
<text x="37.5" y="182.64" text-anchor="end">5</text>
<text x="37.5" y="153.79" text-anchor="end">10</text>
<text x="37.5" y="124.93" text-anchor="end">15</text>
<text x="37.5" y="96.07" text-anchor="end">20</text>
<text x="37.5" y="67.21" text-anchor="end">25</text>
<text x="37.5" y="38.36" text-anchor="end">30</text>
<text x="37.5" y="9.50" text-anchor="end">35</text>
<text x="45.00" y="226.6" text-anchor="middle">0</text>
<text x="159.17" y="226.6" text-anchor="middle">20</text>
<text x="273.33" y="226.6" text-anchor="middle">40</text>
<text x="387.50" y="226.6" text-anchor="middle">60</text>
</g>
<text x="216.0" y="246.7" font-family="Liberation Sans, sans-serif" font-size="14.8" text-anchor="middle">Age (years)</text>
<text transform="translate(11.0,104.5) rotate(-90)" font-family="Liberation Sans, sans-serif" font-size="14.9" text-anchor="middle">Dominant height (m)</text>
</svg>
</body></html>
